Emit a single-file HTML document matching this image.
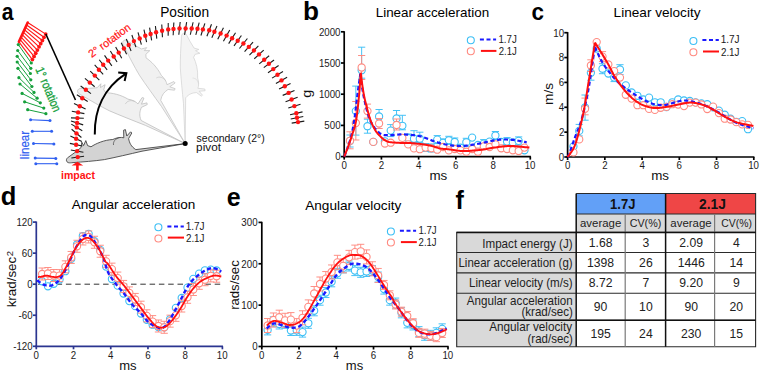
<!DOCTYPE html><html><head><meta charset="utf-8"><style>html,body{margin:0;padding:0;background:#fff;overflow:hidden}svg{display:block}</style></head><body><svg width="760" height="372" viewBox="0 0 760 372" font-family="Liberation Sans, sans-serif">
<rect width="760" height="372" fill="#fff"/>
<text x="1.77" y="20.2" font-size="24.8" font-weight="bold" fill="#000" textLength="11.75" lengthAdjust="spacingAndGlyphs" >a</text>
<text x="160.2" y="17" font-size="13.8" fill="#000" textLength="48.86" lengthAdjust="spacingAndGlyphs" >Position</text>
<g stroke="#ff1414" stroke-width="1.1"><line x1="27.7" y1="22.5" x2="45.7" y2="34.1"/><line x1="26.6" y1="24.93" x2="44.04" y2="37.29"/><line x1="25.5" y1="27.35" x2="42.38" y2="40.48"/><line x1="24.4" y1="29.77" x2="40.71" y2="43.66"/><line x1="23.3" y1="32.2" x2="39.05" y2="46.85"/><line x1="22.2" y1="34.62" x2="37.39" y2="50.04"/><line x1="21.1" y1="37.05" x2="35.73" y2="53.23"/><line x1="20" y1="39.47" x2="34.06" y2="56.41"/><line x1="18.9" y1="41.9" x2="32.4" y2="59.6"/></g>
<line x1="27.7" y1="22.5" x2="18.9" y2="41.9" stroke="#ff1414" stroke-width="2.6" stroke-linecap="round"/>
<g fill="#ff1414"><circle cx="45.7" cy="34.1" r="1.9"/><circle cx="44.04" cy="37.29" r="1.9"/><circle cx="42.38" cy="40.48" r="1.9"/><circle cx="40.71" cy="43.66" r="1.9"/><circle cx="39.05" cy="46.85" r="1.9"/><circle cx="37.39" cy="50.04" r="1.9"/><circle cx="35.73" cy="53.23" r="1.9"/><circle cx="34.06" cy="56.41" r="1.9"/><circle cx="32.4" cy="59.6" r="1.9"/></g>
<g stroke="#16a03c" stroke-width="1"><line x1="18.3" y1="44.6" x2="31.3" y2="63"/><line x1="17.7" y1="50.5" x2="30.8" y2="68.3"/><line x1="17.2" y1="56.3" x2="30.4" y2="73.5"/><line x1="17.2" y1="62" x2="30.8" y2="79.8"/><line x1="17.9" y1="68.3" x2="31.9" y2="86.5"/><line x1="18.9" y1="77.7" x2="34" y2="92.4"/><line x1="20" y1="84" x2="37.1" y2="98.2"/><line x1="22.1" y1="93.4" x2="40.3" y2="102.8"/><line x1="24.6" y1="101.8" x2="43.8" y2="108.1"/><line x1="27.7" y1="109.7" x2="45.9" y2="113.7"/></g>
<g fill="#16a03c"><circle cx="18.3" cy="44.6" r="1.6"/><circle cx="31.3" cy="63" r="1.6"/><circle cx="17.7" cy="50.5" r="1.6"/><circle cx="30.8" cy="68.3" r="1.6"/><circle cx="17.2" cy="56.3" r="1.6"/><circle cx="30.4" cy="73.5" r="1.6"/><circle cx="17.2" cy="62" r="1.6"/><circle cx="30.8" cy="79.8" r="1.6"/><circle cx="17.9" cy="68.3" r="1.6"/><circle cx="31.9" cy="86.5" r="1.6"/><circle cx="18.9" cy="77.7" r="1.6"/><circle cx="34" cy="92.4" r="1.6"/><circle cx="20" cy="84" r="1.6"/><circle cx="37.1" cy="98.2" r="1.6"/><circle cx="22.1" cy="93.4" r="1.6"/><circle cx="40.3" cy="102.8" r="1.6"/><circle cx="24.6" cy="101.8" r="1.6"/><circle cx="43.8" cy="108.1" r="1.6"/><circle cx="27.7" cy="109.7" r="1.6"/><circle cx="45.9" cy="113.7" r="1.6"/></g>
<g stroke="#3060f0" stroke-width="1.1"><line x1="30.6" y1="119.7" x2="50" y2="120.6"/><line x1="32.3" y1="131.3" x2="51.6" y2="131.3"/><line x1="33.5" y1="143.5" x2="53.9" y2="143.9"/><line x1="35.2" y1="158.1" x2="55.8" y2="158.4"/><line x1="35.8" y1="163.7" x2="56.8" y2="163.7"/></g>
<g fill="#3060f0"><circle cx="30.6" cy="119.7" r="1.5"/><circle cx="50" cy="120.6" r="1.5"/><circle cx="32.3" cy="131.3" r="1.5"/><circle cx="51.6" cy="131.3" r="1.5"/><circle cx="33.5" cy="143.5" r="1.5"/><circle cx="53.9" cy="143.9" r="1.5"/><circle cx="35.2" cy="158.1" r="1.5"/><circle cx="55.8" cy="158.4" r="1.5"/><circle cx="35.8" cy="163.7" r="1.5"/><circle cx="56.8" cy="163.7" r="1.5"/></g>
<line x1="45.8" y1="34" x2="75.5" y2="100" stroke="#000" stroke-width="1.6"/>
<g transform="rotate(97.5,185.2,143.6) translate(185.2,143.6) scale(0.92) translate(-185.2,-143.6)"><path d="M68.8,162.8 C65.6,162 65.6,158.6 68.8,156.9 C73,154.2 76.5,151.2 81,147.6 L81.8,142.2 L83.6,145.6 L85.8,140.6 L87.6,145.6 L91,146.8 C96,143.5 104,140 112.8,139.5 C117,137.5 121,137 123.8,137.8 L123.6,130.2 L125.4,129.6 L126.8,136 L130.6,131.8 L131.8,133 L128.6,138.6 C129.5,143 131,146.5 135.8,149.6 L185.2,143.6 L142,151.2 C130,154 115,157.5 104.4,159.6 C95,161 82,162 73,162.6 C71,162.8 69.8,162.9 68.8,162.8 Z" fill="#f4f4f4" stroke="#d0d0d0" stroke-width="0.7" stroke-linejoin="round"/><path d="M113.5,145 C113,141.5 115.5,138.5 119.5,137.6" fill="none" stroke="#d0d0d0" stroke-width="0.5599999999999999"/></g>
<g transform="rotate(67.4,185.2,143.6) translate(185.2,143.6) scale(1) translate(-185.2,-143.6)"><path d="M68.8,162.8 C65.6,162 65.6,158.6 68.8,156.9 C73,154.2 76.5,151.2 81,147.6 L81.8,142.2 L83.6,145.6 L85.8,140.6 L87.6,145.6 L91,146.8 C96,143.5 104,140 112.8,139.5 C117,137.5 121,137 123.8,137.8 L123.6,130.2 L125.4,129.6 L126.8,136 L130.6,131.8 L131.8,133 L128.6,138.6 C129.5,143 131,146.5 135.8,149.6 L185.2,143.6 L142,151.2 C130,154 115,157.5 104.4,159.6 C95,161 82,162 73,162.6 C71,162.8 69.8,162.9 68.8,162.8 Z" fill="#f1f1f1" stroke="#c4c4c4" stroke-width="0.7" stroke-linejoin="round"/><path d="M113.5,145 C113,141.5 115.5,138.5 119.5,137.6" fill="none" stroke="#c4c4c4" stroke-width="0.5599999999999999"/></g>
<g transform="rotate(34.6,185.2,143.6) translate(185.2,143.6) scale(1) translate(-185.2,-143.6)"><path d="M68.8,162.8 C65.6,162 65.6,158.6 68.8,156.9 C73,154.2 76.5,151.2 81,147.6 L81.8,142.2 L83.6,145.6 L85.8,140.6 L87.6,145.6 L91,146.8 C96,143.5 104,140 112.8,139.5 C117,137.5 121,137 123.8,137.8 L123.6,130.2 L125.4,129.6 L126.8,136 L130.6,131.8 L131.8,133 L128.6,138.6 C129.5,143 131,146.5 135.8,149.6 L185.2,143.6 L142,151.2 C130,154 115,157.5 104.4,159.6 C95,161 82,162 73,162.6 C71,162.8 69.8,162.9 68.8,162.8 Z" fill="#f0f0f0" stroke="#bdbdbd" stroke-width="0.7" stroke-linejoin="round"/><path d="M113.5,145 C113,141.5 115.5,138.5 119.5,137.6" fill="none" stroke="#bdbdbd" stroke-width="0.5599999999999999"/></g>
<g transform="rotate(0,185.2,143.6) translate(185.2,143.6) scale(1) translate(-185.2,-143.6)"><path d="M68.8,162.8 C65.6,162 65.6,158.6 68.8,156.9 C73,154.2 76.5,151.2 81,147.6 L81.8,142.2 L83.6,145.6 L85.8,140.6 L87.6,145.6 L91,146.8 C96,143.5 104,140 112.8,139.5 C117,137.5 121,137 123.8,137.8 L123.6,130.2 L125.4,129.6 L126.8,136 L130.6,131.8 L131.8,133 L128.6,138.6 C129.5,143 131,146.5 135.8,149.6 L185.2,143.6 L142,151.2 C130,154 115,157.5 104.4,159.6 C95,161 82,162 73,162.6 C71,162.8 69.8,162.9 68.8,162.8 Z" fill="#d3d3d3" stroke="#3c3c3c" stroke-width="0.85" stroke-linejoin="round"/><path d="M113.5,145 C113,141.5 115.5,138.5 119.5,137.6" fill="none" stroke="#3c3c3c" stroke-width="0.68"/></g>
<g stroke="#1a1a1a" stroke-width="1.1"><line x1="71.36" y1="157.99" x2="84.04" y2="156.21"/><line x1="70.8" y1="149.99" x2="83.4" y2="152.21"/><line x1="69.84" y1="143.37" x2="82.36" y2="146.03"/><line x1="70.35" y1="135.89" x2="81.85" y2="141.51"/><line x1="71.6" y1="129.29" x2="81.4" y2="137.51"/><line x1="71.31" y1="124.1" x2="82.29" y2="130.7"/><line x1="71.01" y1="120.92" x2="83.19" y2="124.88"/><line x1="71" y1="117.88" x2="83.8" y2="118.32"/><line x1="71.82" y1="111.18" x2="84.38" y2="113.62"/><line x1="74" y1="103.6" x2="85.6" y2="109"/><line x1="76.87" y1="94.81" x2="87.73" y2="101.59"/><line x1="90.96" y1="93.58" x2="80.64" y2="86.02"/><line x1="94.67" y1="86.75" x2="84.93" y2="78.45"/><line x1="99.34" y1="80.11" x2="90.26" y2="71.09"/><line x1="103.15" y1="74.49" x2="94.65" y2="64.91"/><line x1="107.16" y1="69.83" x2="99.24" y2="59.77"/><line x1="111.86" y1="65.85" x2="104.54" y2="55.35"/><line x1="117.04" y1="61.96" x2="110.36" y2="51.04"/><line x1="121.72" y1="58.24" x2="115.68" y2="46.96"/><line x1="126.58" y1="54.31" x2="121.22" y2="42.69"/><line x1="131.06" y1="50.95" x2="126.34" y2="39.05"/><line x1="135.91" y1="47.17" x2="131.89" y2="35.03"/><line x1="141.37" y1="44.68" x2="138.03" y2="32.32"/><line x1="146.62" y1="42.06" x2="143.98" y2="29.54"/><line x1="151.61" y1="40.32" x2="149.59" y2="27.68"/><line x1="156.78" y1="38.66" x2="155.42" y2="25.94"/><line x1="162.43" y1="37.19" x2="161.77" y2="24.41"/><line x1="168.17" y1="35.8" x2="168.23" y2="23"/><line x1="173.16" y1="35.29" x2="173.84" y2="22.51"/><line x1="178.82" y1="34.76" x2="180.18" y2="22.04"/><line x1="184.57" y1="34.82" x2="186.63" y2="22.18"/><line x1="190.33" y1="34.75" x2="193.07" y2="22.25"/><line x1="195.81" y1="34.97" x2="199.19" y2="22.63"/><line x1="200.92" y1="35.49" x2="204.88" y2="23.31"/><line x1="206.91" y1="36.28" x2="211.49" y2="24.32"/><line x1="211.84" y1="37.67" x2="216.96" y2="25.93"/><line x1="217.74" y1="39.22" x2="223.46" y2="27.78"/><line x1="223.44" y1="41.17" x2="229.76" y2="30.03"/><line x1="228.67" y1="43.6" x2="235.53" y2="32.8"/><line x1="234" y1="45.92" x2="241.4" y2="35.48"/><line x1="239.43" y1="48.52" x2="247.37" y2="38.48"/><line x1="244.57" y1="51.7" x2="253.03" y2="42.1"/><line x1="249.43" y1="55.08" x2="258.37" y2="45.92"/><line x1="254.29" y1="58.73" x2="263.71" y2="50.07"/><line x1="259.23" y1="63.83" x2="269.17" y2="55.77"/><line x1="263.77" y1="67.62" x2="274.03" y2="59.98"/><line x1="268" y1="72.69" x2="278.6" y2="65.51"/><line x1="272.03" y1="78.13" x2="282.97" y2="71.47"/><line x1="275.88" y1="83.47" x2="287.12" y2="77.33"/><line x1="279.04" y1="89.09" x2="290.56" y2="83.51"/><line x1="282.7" y1="95.38" x2="294.5" y2="90.42"/><line x1="285.57" y1="101.66" x2="297.63" y2="97.34"/><line x1="288.27" y1="107.93" x2="300.53" y2="104.27"/><line x1="290.07" y1="114.76" x2="302.53" y2="111.84"/><line x1="290.72" y1="119.03" x2="303.28" y2="116.57"/><line x1="291.68" y1="123.1" x2="304.32" y2="121.1"/></g>
<g fill="#ff1414"><circle cx="77.7" cy="157.1" r="2.2"/><circle cx="77.1" cy="151.1" r="2.2"/><circle cx="76.1" cy="144.7" r="2.2"/><circle cx="76.1" cy="138.7" r="2.2"/><circle cx="76.5" cy="133.4" r="2.2"/><circle cx="76.8" cy="127.4" r="2.2"/><circle cx="77.1" cy="122.9" r="2.2"/><circle cx="77.4" cy="118.1" r="2.2"/><circle cx="78.1" cy="112.4" r="2.2"/><circle cx="79.8" cy="106.3" r="2.2"/><circle cx="82.3" cy="98.2" r="2.2"/><circle cx="85.8" cy="89.8" r="2.2"/><circle cx="89.8" cy="82.6" r="2.2"/><circle cx="94.8" cy="75.6" r="2.2"/><circle cx="98.9" cy="69.7" r="2.2"/><circle cx="103.2" cy="64.8" r="2.2"/><circle cx="108.2" cy="60.6" r="2.2"/><circle cx="113.7" cy="56.5" r="2.2"/><circle cx="118.7" cy="52.6" r="2.2"/><circle cx="123.9" cy="48.5" r="2.2"/><circle cx="128.7" cy="45" r="2.2"/><circle cx="133.9" cy="41.1" r="2.2"/><circle cx="139.7" cy="38.5" r="2.2"/><circle cx="145.3" cy="35.8" r="2.2"/><circle cx="150.6" cy="34" r="2.2"/><circle cx="156.1" cy="32.3" r="2.2"/><circle cx="162.1" cy="30.8" r="2.2"/><circle cx="168.2" cy="29.4" r="2.2"/><circle cx="173.5" cy="28.9" r="2.2"/><circle cx="179.5" cy="28.4" r="2.2"/><circle cx="185.6" cy="28.5" r="2.2"/><circle cx="191.7" cy="28.5" r="2.2"/><circle cx="197.5" cy="28.8" r="2.2"/><circle cx="202.9" cy="29.4" r="2.2"/><circle cx="209.2" cy="30.3" r="2.2"/><circle cx="214.4" cy="31.8" r="2.2"/><circle cx="220.6" cy="33.5" r="2.2"/><circle cx="226.6" cy="35.6" r="2.2"/><circle cx="232.1" cy="38.2" r="2.2"/><circle cx="237.7" cy="40.7" r="2.2"/><circle cx="243.4" cy="43.5" r="2.2"/><circle cx="248.8" cy="46.9" r="2.2"/><circle cx="253.9" cy="50.5" r="2.2"/><circle cx="259" cy="54.4" r="2.2"/><circle cx="264.2" cy="59.8" r="2.2"/><circle cx="268.9" cy="63.8" r="2.2"/><circle cx="273.3" cy="69.1" r="2.2"/><circle cx="277.5" cy="74.8" r="2.2"/><circle cx="281.5" cy="80.4" r="2.2"/><circle cx="284.8" cy="86.3" r="2.2"/><circle cx="288.6" cy="92.9" r="2.2"/><circle cx="291.6" cy="99.5" r="2.2"/><circle cx="294.4" cy="106.1" r="2.2"/><circle cx="296.3" cy="113.3" r="2.2"/><circle cx="297" cy="117.8" r="2.2"/><circle cx="298" cy="122.1" r="2.2"/></g>
<path d="M94.8,134.6 C94.3,110 104,88 125.5,73.8" fill="none" stroke="#000" stroke-width="2"/>
<path d="M118.2,72.4 L126.4,73.2 L124.6,81" fill="none" stroke="#000" stroke-width="2" stroke-linejoin="miter"/>
<circle cx="185.2" cy="143.6" r="2.5" fill="#000"/>
<path d="M77.4,161.8 L83.2,165.6 L78.7,165.6 L78.7,170.4 L76.1,170.4 L76.1,165.6 L71.6,165.6 Z" fill="#ff1414"/>
<text x="60.96" y="179.3" font-size="11.5" font-weight="bold" fill="#ff1414" textLength="34.08" lengthAdjust="spacingAndGlyphs" >impact</text>
<text x="196.64" y="141.9" font-size="10.2" fill="#111" textLength="68.13" lengthAdjust="spacingAndGlyphs" >secondary (2°)</text>
<text x="196.14" y="151.1" font-size="10.2" fill="#111" textLength="24.85" lengthAdjust="spacingAndGlyphs" >pivot</text>
<text transform="translate(92.3,57.8) rotate(-36.3)" x="-0.54" y="0" font-size="11" fill="#ff1414" stroke="#ff1414" stroke-width="0.2" textLength="49.18" lengthAdjust="spacingAndGlyphs">2° rotation</text>
<text transform="translate(35.6,70) rotate(67)" x="-0.78" y="0" font-size="12.3" fill="#16a03c" stroke="#16a03c" stroke-width="0.3" textLength="47.39" lengthAdjust="spacingAndGlyphs">1° rotation</text>
<text transform="translate(29.4,158.4) rotate(-90)" x="-0.75" y="0" font-size="12" fill="#3060f0" stroke="#3060f0" stroke-width="0.2" textLength="28.28" lengthAdjust="spacingAndGlyphs">linear</text>
<text x="302.9" y="20.4" font-size="25.5" font-weight="bold" fill="#000" textLength="15.97" lengthAdjust="spacingAndGlyphs" >b</text>
<text x="375.73" y="17.1" font-size="13.6" fill="#000" textLength="113.38" lengthAdjust="spacingAndGlyphs" >Linear acceleration</text>
<g stroke="#000" stroke-width="1.7"><line x1="344.2" y1="31.2" x2="344.2" y2="157.45"/><line x1="343.35" y1="156.6" x2="530.9" y2="156.6"/><line x1="340.9" y1="156.6" x2="344.2" y2="156.6"/><line x1="340.9" y1="125.4" x2="344.2" y2="125.4"/><line x1="340.9" y1="94.2" x2="344.2" y2="94.2"/><line x1="340.9" y1="63" x2="344.2" y2="63"/><line x1="340.9" y1="31.8" x2="344.2" y2="31.8"/><line x1="344.2" y1="156.6" x2="344.2" y2="159.6"/><line x1="381.42" y1="156.6" x2="381.42" y2="159.6"/><line x1="418.64" y1="156.6" x2="418.64" y2="159.6"/><line x1="455.86" y1="156.6" x2="455.86" y2="159.6"/><line x1="493.08" y1="156.6" x2="493.08" y2="159.6"/><line x1="530.3" y1="156.6" x2="530.3" y2="159.6"/></g>
<text x="335.15" y="160.4" font-size="10.8" fill="#1a1a1a" textLength="5.41" lengthAdjust="spacingAndGlyphs" >0</text>
<text x="324.36" y="129.2" font-size="10.8" fill="#1a1a1a" textLength="16.22" lengthAdjust="spacingAndGlyphs" >500</text>
<text x="318.91" y="98" font-size="10.8" fill="#1a1a1a" textLength="21.62" lengthAdjust="spacingAndGlyphs" >1000</text>
<text x="318.91" y="66.8" font-size="10.8" fill="#1a1a1a" textLength="21.62" lengthAdjust="spacingAndGlyphs" >1500</text>
<text x="318.91" y="35.6" font-size="10.8" fill="#1a1a1a" textLength="21.62" lengthAdjust="spacingAndGlyphs" >2000</text>
<text x="341.48" y="168.5" font-size="10.8" fill="#1a1a1a" textLength="5.41" lengthAdjust="spacingAndGlyphs" >0</text>
<text x="378.72" y="168.5" font-size="10.8" fill="#1a1a1a" textLength="5.41" lengthAdjust="spacingAndGlyphs" >2</text>
<text x="415.97" y="168.5" font-size="10.8" fill="#1a1a1a" textLength="5.41" lengthAdjust="spacingAndGlyphs" >4</text>
<text x="453.11" y="168.5" font-size="10.8" fill="#1a1a1a" textLength="5.41" lengthAdjust="spacingAndGlyphs" >6</text>
<text x="490.38" y="168.5" font-size="10.8" fill="#1a1a1a" textLength="5.41" lengthAdjust="spacingAndGlyphs" >8</text>
<text x="524.71" y="168.5" font-size="10.8" fill="#1a1a1a" textLength="10.81" lengthAdjust="spacingAndGlyphs" >10</text>
<text transform="translate(311.4,97.2) rotate(-90)" x="-0.58" y="0" font-size="13" fill="#111" textLength="8.07" lengthAdjust="spacingAndGlyphs">g</text>
<text x="429.43" y="179.6" font-size="13.2" fill="#111" textLength="17.81" lengthAdjust="spacingAndGlyphs" >ms</text>
<circle cx="470.8" cy="40.2" r="3.5" fill="none" stroke="#3cbff5" stroke-width="1.1"/>
<circle cx="470.8" cy="51.3" r="3.5" fill="none" stroke="#ff8a80" stroke-width="1.1"/>
<line x1="479.9" y1="39.6" x2="496.1" y2="39.6" stroke="#1a1aff" stroke-width="2" stroke-dasharray="4,2.6"/>
<line x1="480.9" y1="50.9" x2="496.4" y2="50.9" stroke="#ff1010" stroke-width="2"/>
<text x="498.47" y="42.7" font-size="10" fill="#1a1a1a" textLength="18.36" lengthAdjust="spacingAndGlyphs" >1.7J</text>
<text x="498.72" y="55.3" font-size="10" fill="#1a1a1a" textLength="18.1" lengthAdjust="spacingAndGlyphs" >2.1J</text>
<g stroke="#3cbff5" stroke-width="0.95" fill="none"><path d="M350.02,135 V147 M346.42,135 H353.62 M346.42,147 H353.62"/><path d="M355.83,86.1 V135.1 M352.23,86.1 H359.43 M352.23,135.1 H359.43"/><path d="M361.65,47.2 V78.2 M358.05,47.2 H365.25 M358.05,78.2 H365.25"/><path d="M367.46,119.2 V133.2 M363.86,119.2 H371.06 M363.86,133.2 H371.06"/><path d="M379.09,109.5 V124 M375.49,109.5 H382.69 M375.49,124 H382.69"/><path d="M390.72,124.6 V136.6 M387.12,124.6 H394.32 M387.12,136.6 H394.32"/><path d="M396.54,110.5 V127 M392.94,110.5 H400.14 M392.94,127 H400.14"/><path d="M402.36,115.3 V129.8 M398.76,115.3 H405.96 M398.76,129.8 H405.96"/><path d="M408.17,134 V142 M404.57,134 H411.77 M404.57,142 H411.77"/><path d="M413.99,130.7 V142.7 M410.39,130.7 H417.59 M410.39,142.7 H417.59"/><path d="M419.8,132.2 V142.7 M416.2,132.2 H423.4 M416.2,142.7 H423.4"/><path d="M425.62,143.5 V151.5 M422.02,143.5 H429.22 M422.02,151.5 H429.22"/><path d="M431.43,144 V152 M427.83,144 H435.03 M427.83,152 H435.03"/><path d="M437.25,135.6 V143.6 M433.65,135.6 H440.85 M433.65,143.6 H440.85"/><path d="M443.07,138.9 V146.9 M439.47,138.9 H446.67 M439.47,146.9 H446.67"/><path d="M448.88,136.3 V144.3 M445.28,136.3 H452.48 M445.28,144.3 H452.48"/><path d="M454.7,138 V146 M451.1,138 H458.3 M451.1,146 H458.3"/><path d="M466.33,138.3 V146.3 M462.73,138.3 H469.93 M462.73,146.3 H469.93"/><path d="M483.77,139.6 V147.6 M480.17,139.6 H487.38 M480.17,147.6 H487.38"/><path d="M495.41,131.5 V139.5 M491.81,131.5 H499.01 M491.81,139.5 H499.01"/><path d="M507.04,137.6 V145.6 M503.44,137.6 H510.64 M503.44,145.6 H510.64"/><path d="M518.67,136.9 V144.9 M515.07,136.9 H522.27 M515.07,144.9 H522.27"/></g>
<g stroke="#3cbff5" stroke-width="1.1" fill="#fff"><circle cx="350.02" cy="141" r="3.6"/><circle cx="355.83" cy="111.1" r="3.6"/><circle cx="361.65" cy="70.2" r="3.6"/><circle cx="367.46" cy="126.2" r="3.6"/><circle cx="373.28" cy="141.9" r="3.6"/><circle cx="379.09" cy="116.5" r="3.6"/><circle cx="384.91" cy="141.4" r="3.6"/><circle cx="390.72" cy="130.6" r="3.6"/><circle cx="396.54" cy="118.5" r="3.6"/><circle cx="402.36" cy="125.8" r="3.6"/><circle cx="408.17" cy="138" r="3.6"/><circle cx="413.99" cy="138.7" r="3.6"/><circle cx="419.8" cy="138.7" r="3.6"/><circle cx="425.62" cy="147.5" r="3.6"/><circle cx="431.43" cy="148" r="3.6"/><circle cx="437.25" cy="139.6" r="3.6"/><circle cx="443.07" cy="142.9" r="3.6"/><circle cx="448.88" cy="140.3" r="3.6"/><circle cx="454.7" cy="142" r="3.6"/><circle cx="460.51" cy="147.7" r="3.6"/><circle cx="466.33" cy="142.3" r="3.6"/><circle cx="472.14" cy="137.6" r="3.6"/><circle cx="477.96" cy="145" r="3.6"/><circle cx="483.77" cy="143.6" r="3.6"/><circle cx="489.59" cy="141.6" r="3.6"/><circle cx="495.41" cy="135.5" r="3.6"/><circle cx="501.22" cy="142" r="3.6"/><circle cx="507.04" cy="141.6" r="3.6"/><circle cx="512.85" cy="142.5" r="3.6"/><circle cx="518.67" cy="140.9" r="3.6"/><circle cx="524.48" cy="150.3" r="3.6"/></g>
<g stroke="#ff8a80" stroke-width="0.95" fill="none"><path d="M350.02,131.8 V148.8 M346.42,131.8 H353.62 M346.42,148.8 H353.62"/><path d="M355.83,101.5 V140 M352.23,101.5 H359.43 M352.23,140 H359.43"/><path d="M361.65,55.5 V79.5 M358.05,55.5 H365.25 M358.05,79.5 H365.25"/><path d="M367.46,104.1 V118.1 M363.86,104.1 H371.06 M363.86,118.1 H371.06"/><path d="M379.09,118.5 V128.5 M375.49,118.5 H382.69 M375.49,128.5 H382.69"/><path d="M396.54,119 V130 M392.94,119 H400.14 M392.94,130 H400.14"/></g>
<g stroke="#ff8a80" stroke-width="1.1" fill="#fff"><circle cx="350.02" cy="140.8" r="3.6"/><circle cx="355.83" cy="123" r="3.6"/><circle cx="361.65" cy="67.5" r="3.6"/><circle cx="367.46" cy="111.1" r="3.6"/><circle cx="373.28" cy="141.9" r="3.6"/><circle cx="379.09" cy="123.5" r="3.6"/><circle cx="384.91" cy="143.5" r="3.6"/><circle cx="390.72" cy="142.7" r="3.6"/><circle cx="396.54" cy="125" r="3.6"/><circle cx="402.36" cy="137.9" r="3.6"/><circle cx="408.17" cy="144.4" r="3.6"/><circle cx="413.99" cy="148.4" r="3.6"/><circle cx="419.8" cy="149.2" r="3.6"/><circle cx="425.62" cy="147.6" r="3.6"/><circle cx="431.43" cy="148.3" r="3.6"/><circle cx="437.25" cy="149.7" r="3.6"/><circle cx="443.07" cy="147" r="3.6"/><circle cx="448.88" cy="150.4" r="3.6"/><circle cx="454.7" cy="149" r="3.6"/><circle cx="460.51" cy="150.4" r="3.6"/><circle cx="466.33" cy="151.7" r="3.6"/><circle cx="472.14" cy="149" r="3.6"/><circle cx="477.96" cy="151.7" r="3.6"/><circle cx="483.77" cy="146.3" r="3.6"/><circle cx="489.59" cy="147" r="3.6"/><circle cx="495.41" cy="144.3" r="3.6"/><circle cx="501.22" cy="148.3" r="3.6"/><circle cx="507.04" cy="149" r="3.6"/><circle cx="512.85" cy="150.3" r="3.6"/><circle cx="518.67" cy="151" r="3.6"/><circle cx="524.48" cy="147.6" r="3.6"/></g>
<path d="M344.2,156.6 L344.39,156.11 L344.64,155.5 L344.93,154.79 L345.25,153.99 L345.6,153.11 L345.97,152.17 L346.35,151.17 L346.74,150.14 L347.13,149.08 L347.5,148 L347.87,146.9 L348.27,145.77 L348.67,144.6 L349.08,143.38 L349.5,142.12 L349.92,140.81 L350.33,139.44 L350.73,138.02 L351.13,136.54 L351.5,135 L351.86,133.39 L352.22,131.7 L352.56,129.95 L352.9,128.14 L353.24,126.28 L353.56,124.38 L353.88,122.44 L354.2,120.48 L354.5,118.5 L354.8,116.5 L355.09,114.47 L355.36,112.38 L355.62,110.25 L355.88,108.09 L356.12,105.91 L356.37,103.71 L356.62,101.51 L356.87,99.32 L357.13,97.14 L357.4,95 L357.69,92.79 L358.01,90.43 L358.34,88 L358.68,85.56 L359.01,83.16 L359.33,80.86 L359.63,78.74 L359.9,76.85 L360.13,75.25 L360.3,74 M360.3,74 L360.47,75.25 L360.69,76.85 L360.93,78.74 L361.21,80.86 L361.52,83.16 L361.85,85.56 L362.21,88 L362.59,90.43 L362.99,92.79 L363.4,95 L363.84,97.18 L364.32,99.44 L364.83,101.76 L365.36,104.09 L365.91,106.41 L366.47,108.67 L367.04,110.84 L367.6,112.9 L368.16,114.79 L368.7,116.5 L369.22,118.01 L369.73,119.36 L370.24,120.57 L370.74,121.66 L371.24,122.66 L371.76,123.58 L372.29,124.45 L372.83,125.3 L373.4,126.14 L374,127 L374.63,127.87 L375.29,128.72 L375.98,129.54 L376.68,130.33 L377.39,131.08 L378.12,131.79 L378.85,132.44 L379.57,133.03 L380.29,133.55 L381,134 L381.7,134.36 L382.38,134.64 L383.07,134.84 L383.75,134.97 L384.44,135.06 L385.13,135.11 L385.83,135.14 L386.54,135.16 L387.26,135.17 L388,135.2 L388.76,135.22 L389.53,135.22 L390.32,135.2 L391.12,135.16 L391.93,135.1 L392.74,135.04 L393.55,134.97 L394.37,134.91 L395.19,134.85 L396,134.8 L396.78,134.75 L397.5,134.68 L398.2,134.61 L398.89,134.53 L399.59,134.46 L400.34,134.39 L401.15,134.35 L402.05,134.33 L403.06,134.35 L404.2,134.4 L405.5,134.48 L406.94,134.58 L408.49,134.69 L410.14,134.83 L411.84,134.99 L413.58,135.18 L415.32,135.41 L417.04,135.67 L418.71,135.96 L420.3,136.3 L421.83,136.7 L423.35,137.17 L424.85,137.7 L426.34,138.27 L427.81,138.86 L429.27,139.45 L430.72,140.04 L432.16,140.61 L433.58,141.13 L435,141.6 L436.4,142.03 L437.78,142.44 L439.14,142.84 L440.49,143.21 L441.83,143.57 L443.16,143.9 L444.5,144.22 L445.83,144.5 L447.16,144.77 L448.5,145 L449.84,145.21 L451.18,145.4 L452.52,145.56 L453.86,145.7 L455.2,145.82 L456.54,145.91 L457.88,145.97 L459.22,146.01 L460.56,146.02 L461.9,146 L463.26,145.94 L464.66,145.84 L466.07,145.7 L467.48,145.53 L468.89,145.34 L470.28,145.13 L471.63,144.92 L472.95,144.7 L474.21,144.49 L475.4,144.3 L476.5,144.11 L477.51,143.93 L478.45,143.74 L479.34,143.55 L480.21,143.35 L481.07,143.15 L481.96,142.95 L482.9,142.74 L483.9,142.52 L485,142.3 L486.19,142.06 L487.44,141.79 L488.74,141.51 L490.08,141.22 L491.46,140.93 L492.85,140.64 L494.25,140.38 L495.65,140.15 L497.04,139.95 L498.4,139.8 L499.74,139.69 L501.07,139.6 L502.4,139.54 L503.73,139.5 L505.06,139.49 L506.4,139.5 L507.75,139.54 L509.12,139.6 L510.5,139.69 L511.9,139.8 L513.39,139.96 L515.01,140.18 L516.71,140.45 L518.44,140.74 L520.14,141.05 L521.78,141.36 L523.31,141.66 L524.67,141.92 L525.81,142.14 L526.7,142.3" fill="none" stroke="#1a1aff" stroke-width="2.2" stroke-dasharray="4.2,2.6" stroke-linejoin="round"/>
<path d="M344.2,156.6 L344.42,156.04 L344.71,155.33 L345.05,154.5 L345.43,153.57 L345.84,152.55 L346.28,151.47 L346.72,150.36 L347.16,149.23 L347.59,148.1 L348,147 L348.4,145.91 L348.8,144.78 L349.21,143.63 L349.63,142.46 L350.04,141.26 L350.46,140.04 L350.88,138.81 L351.29,137.55 L351.7,136.28 L352.1,135 L352.5,133.75 L352.91,132.55 L353.31,131.38 L353.71,130.2 L354.11,128.99 L354.51,127.7 L354.9,126.31 L355.27,124.78 L355.64,123.09 L356,121.2 L356.35,119.06 L356.7,116.69 L357.04,114.13 L357.37,111.43 L357.69,108.63 L358.01,105.79 L358.31,102.96 L358.59,100.19 L358.85,97.52 L359.1,95 L359.33,92.51 L359.54,89.93 L359.74,87.32 L359.92,84.73 L360.09,82.21 L360.25,79.83 L360.38,77.63 L360.51,75.67 L360.61,74.01 L360.7,72.7 M360.7,72.7 L360.88,74.03 L361.1,75.75 L361.36,77.78 L361.64,80.05 L361.96,82.51 L362.31,85.07 L362.68,87.67 L363.07,90.23 L363.48,92.7 L363.9,95 L364.35,97.23 L364.85,99.51 L365.38,101.82 L365.94,104.14 L366.51,106.42 L367.08,108.66 L367.66,110.81 L368.23,112.85 L368.78,114.76 L369.3,116.5 L369.8,118.08 L370.28,119.51 L370.75,120.83 L371.22,122.04 L371.68,123.16 L372.13,124.2 L372.59,125.2 L373.05,126.15 L373.52,127.08 L374,128 L374.48,128.89 L374.94,129.7 L375.4,130.46 L375.86,131.17 L376.32,131.84 L376.81,132.48 L377.31,133.11 L377.84,133.73 L378.4,134.36 L379,135 L379.64,135.67 L380.31,136.35 L381,137.04 L381.72,137.72 L382.46,138.39 L383.23,139.03 L384.02,139.63 L384.83,140.18 L385.65,140.68 L386.5,141.1 L387.35,141.45 L388.18,141.73 L389.02,141.95 L389.87,142.12 L390.76,142.25 L391.68,142.36 L392.67,142.44 L393.72,142.52 L394.86,142.6 L396.1,142.7 L397.45,142.79 L398.92,142.85 L400.48,142.88 L402.11,142.91 L403.79,142.92 L405.51,142.94 L407.24,142.97 L408.96,143.02 L410.65,143.09 L412.3,143.2 L413.93,143.33 L415.6,143.48 L417.28,143.65 L418.96,143.83 L420.64,144.03 L422.29,144.24 L423.9,144.46 L425.47,144.7 L426.97,144.94 L428.4,145.2 L429.76,145.48 L431.06,145.8 L432.31,146.14 L433.51,146.5 L434.67,146.87 L435.8,147.23 L436.89,147.57 L437.95,147.89 L438.99,148.17 L440,148.4 L440.95,148.58 L441.82,148.71 L442.62,148.81 L443.39,148.89 L444.14,148.94 L444.9,148.99 L445.69,149.04 L446.54,149.11 L447.47,149.19 L448.5,149.3 L449.64,149.45 L450.86,149.63 L452.16,149.82 L453.5,150.03 L454.89,150.24 L456.3,150.45 L457.72,150.63 L459.14,150.79 L460.53,150.92 L461.9,151 L463.26,151.04 L464.66,151.04 L466.07,151.01 L467.48,150.95 L468.89,150.88 L470.28,150.79 L471.63,150.7 L472.95,150.6 L474.21,150.49 L475.4,150.4 L476.5,150.31 L477.51,150.21 L478.45,150.12 L479.34,150.01 L480.21,149.9 L481.07,149.78 L481.96,149.65 L482.9,149.51 L483.9,149.36 L485,149.2 L486.19,149.02 L487.44,148.8 L488.74,148.58 L490.08,148.33 L491.46,148.09 L492.85,147.84 L494.25,147.6 L495.65,147.38 L497.04,147.18 L498.4,147 L499.73,146.84 L501.03,146.68 L502.32,146.53 L503.6,146.39 L504.89,146.26 L506.21,146.16 L507.55,146.07 L508.94,146.01 L510.39,145.99 L511.9,146 L513.57,146.06 L515.42,146.18 L517.41,146.34 L519.45,146.53 L521.49,146.74 L523.47,146.95 L525.31,147.16 L526.96,147.34 L528.34,147.49 L529.4,147.6" fill="none" stroke="#ff1010" stroke-width="2" stroke-linejoin="round"/>
<text x="531.6" y="20.3" font-size="24.2" font-weight="bold" fill="#000" textLength="12.5" lengthAdjust="spacingAndGlyphs" >c</text>
<text x="613.61" y="17.3" font-size="13.6" fill="#000" textLength="86.92" lengthAdjust="spacingAndGlyphs" >Linear velocity</text>
<g stroke="#000" stroke-width="1.7"><line x1="567.6" y1="32.1" x2="567.6" y2="157.85"/><line x1="566.75" y1="157" x2="754.4" y2="157"/><line x1="564.3" y1="157" x2="567.6" y2="157"/><line x1="564.3" y1="132.14" x2="567.6" y2="132.14"/><line x1="564.3" y1="107.28" x2="567.6" y2="107.28"/><line x1="564.3" y1="82.42" x2="567.6" y2="82.42"/><line x1="564.3" y1="57.56" x2="567.6" y2="57.56"/><line x1="564.3" y1="32.7" x2="567.6" y2="32.7"/><line x1="567.6" y1="157" x2="567.6" y2="160"/><line x1="604.84" y1="157" x2="604.84" y2="160"/><line x1="642.08" y1="157" x2="642.08" y2="160"/><line x1="679.32" y1="157" x2="679.32" y2="160"/><line x1="716.56" y1="157" x2="716.56" y2="160"/><line x1="753.8" y1="157" x2="753.8" y2="160"/></g>
<text x="558.75" y="160.8" font-size="10.8" fill="#1a1a1a" textLength="5.41" lengthAdjust="spacingAndGlyphs" >0</text>
<text x="558.89" y="135.94" font-size="10.8" fill="#1a1a1a" textLength="5.41" lengthAdjust="spacingAndGlyphs" >2</text>
<text x="558.65" y="111.08" font-size="10.8" fill="#1a1a1a" textLength="5.41" lengthAdjust="spacingAndGlyphs" >4</text>
<text x="558.79" y="86.22" font-size="10.8" fill="#1a1a1a" textLength="5.41" lengthAdjust="spacingAndGlyphs" >6</text>
<text x="558.79" y="61.36" font-size="10.8" fill="#1a1a1a" textLength="5.41" lengthAdjust="spacingAndGlyphs" >8</text>
<text x="553.35" y="36.5" font-size="10.8" fill="#1a1a1a" textLength="10.81" lengthAdjust="spacingAndGlyphs" >10</text>
<text x="564.88" y="168.6" font-size="10.8" fill="#1a1a1a" textLength="5.41" lengthAdjust="spacingAndGlyphs" >0</text>
<text x="602.14" y="168.6" font-size="10.8" fill="#1a1a1a" textLength="5.41" lengthAdjust="spacingAndGlyphs" >2</text>
<text x="639.41" y="168.6" font-size="10.8" fill="#1a1a1a" textLength="5.41" lengthAdjust="spacingAndGlyphs" >4</text>
<text x="676.57" y="168.6" font-size="10.8" fill="#1a1a1a" textLength="5.41" lengthAdjust="spacingAndGlyphs" >6</text>
<text x="713.86" y="168.6" font-size="10.8" fill="#1a1a1a" textLength="5.41" lengthAdjust="spacingAndGlyphs" >8</text>
<text x="748.21" y="168.6" font-size="10.8" fill="#1a1a1a" textLength="10.81" lengthAdjust="spacingAndGlyphs" >10</text>
<text transform="translate(553.2,104.1) rotate(-90)" x="-0.89" y="0" font-size="13.2" fill="#111" textLength="22.08" lengthAdjust="spacingAndGlyphs">m/s</text>
<text x="651.23" y="179.9" font-size="13.2" fill="#111" textLength="17.81" lengthAdjust="spacingAndGlyphs" >ms</text>
<circle cx="693.4" cy="41" r="3.5" fill="none" stroke="#3cbff5" stroke-width="1.1"/>
<circle cx="693.4" cy="52.3" r="3.5" fill="none" stroke="#ff8a80" stroke-width="1.1"/>
<line x1="702.4" y1="40" x2="718.8" y2="40" stroke="#1a1aff" stroke-width="2" stroke-dasharray="4,2.6"/>
<line x1="703" y1="51.5" x2="719" y2="51.5" stroke="#ff1010" stroke-width="2"/>
<text x="720.65" y="43.1" font-size="10" fill="#1a1a1a" textLength="18.9" lengthAdjust="spacingAndGlyphs" >1.7J</text>
<text x="720.91" y="55.6" font-size="10" fill="#1a1a1a" textLength="18.63" lengthAdjust="spacingAndGlyphs" >2.1J</text>
<g stroke="#3cbff5" stroke-width="0.95" fill="none"><path d="M579.24,124.4 V135.9 M575.64,124.4 H582.84 M575.64,135.9 H582.84"/><path d="M585.06,95 V120.2 M581.46,95 H588.66 M581.46,120.2 H588.66"/><path d="M590.88,65.7 V80.2 M587.27,65.7 H594.48 M587.27,80.2 H594.48"/><path d="M602.51,63.7 V73.7 M598.91,63.7 H606.11 M598.91,73.7 H606.11"/><path d="M614.15,73.6 V81.6 M610.55,73.6 H617.75 M610.55,81.6 H617.75"/><path d="M619.97,64.7 V74.5 M616.37,64.7 H623.57 M616.37,74.5 H623.57"/></g>
<g stroke="#3cbff5" stroke-width="1.1" fill="#fff"><circle cx="573.42" cy="146.4" r="3.6"/><circle cx="579.24" cy="130.9" r="3.6"/><circle cx="585.06" cy="107.5" r="3.6"/><circle cx="590.88" cy="72.7" r="3.6"/><circle cx="596.69" cy="48.5" r="3.6"/><circle cx="602.51" cy="68.7" r="3.6"/><circle cx="608.33" cy="73.5" r="3.6"/><circle cx="614.15" cy="77.6" r="3.6"/><circle cx="619.97" cy="69.5" r="3.6"/><circle cx="625.79" cy="85.4" r="3.6"/><circle cx="631.61" cy="92.47" r="3.6"/><circle cx="637.42" cy="95.8" r="3.6"/><circle cx="643.24" cy="99.52" r="3.6"/><circle cx="649.06" cy="97.6" r="3.6"/><circle cx="654.88" cy="102.3" r="3.6"/><circle cx="660.7" cy="102.3" r="3.6"/><circle cx="666.52" cy="107" r="3.6"/><circle cx="672.34" cy="102.3" r="3.6"/><circle cx="678.16" cy="99.5" r="3.6"/><circle cx="683.98" cy="100.49" r="3.6"/><circle cx="689.79" cy="101" r="3.6"/><circle cx="695.61" cy="102.38" r="3.6"/><circle cx="701.43" cy="103.4" r="3.6"/><circle cx="707.25" cy="104.2" r="3.6"/><circle cx="713.07" cy="107.4" r="3.6"/><circle cx="718.89" cy="110.6" r="3.6"/><circle cx="724.71" cy="114.7" r="3.6"/><circle cx="730.52" cy="118.7" r="3.6"/><circle cx="736.34" cy="121.9" r="3.6"/><circle cx="742.16" cy="121.1" r="3.6"/><circle cx="747.98" cy="129.2" r="3.6"/></g>
<g stroke="#ff8a80" stroke-width="0.95" fill="none"><path d="M585.06,98.1 V114.8 M581.46,98.1 H588.66 M581.46,114.8 H588.66"/><path d="M590.88,59.8 V71.5 M587.27,59.8 H594.48 M587.27,71.5 H594.48"/><path d="M602.51,51.6 V61.6 M598.91,51.6 H606.11 M598.91,61.6 H606.11"/></g>
<g stroke="#ff8a80" stroke-width="1.1" fill="#fff"><circle cx="573.42" cy="152.4" r="3.6"/><circle cx="579.24" cy="139.4" r="3.6"/><circle cx="585.06" cy="108.8" r="3.6"/><circle cx="590.88" cy="65.5" r="3.6"/><circle cx="596.69" cy="42.1" r="3.6"/><circle cx="602.51" cy="56.6" r="3.6"/><circle cx="608.33" cy="64.48" r="3.6"/><circle cx="614.15" cy="71.1" r="3.6"/><circle cx="619.97" cy="77.6" r="3.6"/><circle cx="625.79" cy="94.8" r="3.6"/><circle cx="631.61" cy="98.6" r="3.6"/><circle cx="637.42" cy="105.2" r="3.6"/><circle cx="643.24" cy="105.22" r="3.6"/><circle cx="649.06" cy="108.9" r="3.6"/><circle cx="654.88" cy="109.9" r="3.6"/><circle cx="660.7" cy="107.74" r="3.6"/><circle cx="666.52" cy="106.89" r="3.6"/><circle cx="672.34" cy="104.2" r="3.6"/><circle cx="678.16" cy="104.6" r="3.6"/><circle cx="683.98" cy="106.1" r="3.6"/><circle cx="689.79" cy="102.6" r="3.6"/><circle cx="695.61" cy="102.6" r="3.6"/><circle cx="701.43" cy="104.46" r="3.6"/><circle cx="707.25" cy="109" r="3.6"/><circle cx="713.07" cy="106.6" r="3.6"/><circle cx="718.89" cy="113.1" r="3.6"/><circle cx="724.71" cy="118.7" r="3.6"/><circle cx="730.52" cy="119.5" r="3.6"/><circle cx="736.34" cy="122.15" r="3.6"/><circle cx="742.16" cy="124.4" r="3.6"/><circle cx="747.98" cy="124.92" r="3.6"/></g>
<path d="M567.6,157 L567.66,156.92 L567.72,156.9 L567.77,156.9 L567.84,156.89 L567.93,156.83 L568.04,156.68 L568.2,156.41 L568.4,155.98 L568.67,155.36 L569,154.5 L569.41,153.37 L569.9,151.98 L570.46,150.39 L571.06,148.63 L571.71,146.75 L572.37,144.81 L573.05,142.84 L573.72,140.9 L574.38,139.04 L575,137.3 L575.61,135.66 L576.23,134.07 L576.86,132.52 L577.49,130.97 L578.11,129.43 L578.73,127.88 L579.35,126.29 L579.95,124.66 L580.53,122.97 L581.1,121.2 L581.65,119.33 L582.2,117.37 L582.74,115.34 L583.27,113.26 L583.79,111.15 L584.29,109.04 L584.77,106.96 L585.24,104.93 L585.68,102.97 L586.1,101.1 L586.49,99.34 L586.85,97.67 L587.18,96.07 L587.49,94.51 L587.79,92.98 L588.07,91.46 L588.35,89.92 L588.63,88.34 L588.91,86.71 L589.2,85 L589.49,83.22 L589.78,81.39 L590.06,79.52 L590.33,77.61 L590.61,75.69 L590.88,73.75 L591.15,71.8 L591.43,69.85 L591.71,67.92 L592,66 L592.31,64.01 L592.64,61.88 L592.98,59.68 L593.33,57.45 L593.67,55.26 L594.01,53.17 L594.31,51.23 L594.59,49.5 L594.82,48.04 L595,46.9 M595,46.9 L595.41,47.81 L595.92,48.98 L596.5,50.37 L597.16,51.92 L597.89,53.59 L598.68,55.35 L599.53,57.14 L600.42,58.93 L601.34,60.66 L602.3,62.3 L603.33,63.91 L604.45,65.59 L605.64,67.31 L606.9,69.04 L608.18,70.76 L609.48,72.44 L610.77,74.08 L612.04,75.63 L613.25,77.08 L614.4,78.4 L615.49,79.59 L616.54,80.68 L617.57,81.67 L618.58,82.59 L619.57,83.44 L620.54,84.25 L621.51,85.03 L622.47,85.78 L623.43,86.54 L624.4,87.3 L625.36,88.06 L626.32,88.78 L627.26,89.48 L628.2,90.15 L629.14,90.81 L630.07,91.44 L631,92.07 L631.93,92.68 L632.86,93.29 L633.8,93.9 L634.74,94.51 L635.68,95.11 L636.62,95.7 L637.56,96.28 L638.5,96.85 L639.44,97.41 L640.38,97.95 L641.32,98.49 L642.26,99 L643.2,99.5 L644.13,99.99 L645.05,100.47 L645.96,100.95 L646.87,101.41 L647.78,101.86 L648.7,102.28 L649.64,102.68 L650.6,103.06 L651.58,103.4 L652.6,103.7 L653.65,103.98 L654.74,104.24 L655.85,104.49 L656.98,104.71 L658.13,104.89 L659.29,105.05 L660.45,105.16 L661.61,105.22 L662.76,105.24 L663.9,105.2 L665.04,105.08 L666.18,104.88 L667.34,104.62 L668.49,104.3 L669.64,103.96 L670.79,103.59 L671.92,103.23 L673.04,102.88 L674.13,102.57 L675.2,102.3 L676.22,102.05 L677.18,101.79 L678.11,101.53 L679.01,101.28 L679.91,101.04 L680.82,100.83 L681.77,100.66 L682.77,100.54 L683.84,100.48 L685,100.5 L686.28,100.59 L687.66,100.76 L689.13,100.99 L690.66,101.27 L692.21,101.59 L693.76,101.94 L695.29,102.3 L696.75,102.67 L698.13,103.04 L699.4,103.4 L700.55,103.75 L701.63,104.11 L702.63,104.48 L703.58,104.87 L704.49,105.26 L705.38,105.67 L706.26,106.08 L707.15,106.51 L708.06,106.95 L709,107.4 L709.97,107.86 L710.93,108.34 L711.9,108.82 L712.87,109.32 L713.84,109.83 L714.82,110.34 L715.79,110.87 L716.76,111.4 L717.73,111.95 L718.7,112.5 L719.67,113.07 L720.64,113.66 L721.61,114.27 L722.58,114.88 L723.55,115.51 L724.52,116.13 L725.49,116.75 L726.46,117.35 L727.43,117.94 L728.4,118.5 L729.34,119.04 L730.25,119.57 L731.13,120.08 L732.01,120.58 L732.9,121.07 L733.82,121.56 L734.78,122.04 L735.8,122.52 L736.9,123.01 L738.1,123.5 L739.47,124.02 L741.05,124.56 L742.76,125.13 L744.55,125.7 L746.36,126.26 L748.11,126.8 L749.76,127.29 L751.23,127.74 L752.46,128.11 L753.4,128.4" fill="none" stroke="#1a1aff" stroke-width="2.2" stroke-dasharray="4.2,2.6" stroke-linejoin="round"/>
<path d="M567.6,157 L567.99,156.46 L568.49,155.8 L569.09,155.03 L569.76,154.16 L570.48,153.21 L571.23,152.17 L571.97,151.06 L572.7,149.89 L573.38,148.67 L574,147.4 L574.56,146.08 L575.1,144.69 L575.63,143.24 L576.14,141.72 L576.64,140.13 L577.13,138.48 L577.62,136.78 L578.11,135.01 L578.6,133.18 L579.1,131.3 L579.61,129.34 L580.12,127.3 L580.64,125.18 L581.16,122.99 L581.67,120.76 L582.18,118.48 L582.68,116.17 L583.17,113.85 L583.64,111.52 L584.1,109.2 L584.54,106.85 L584.97,104.44 L585.39,101.99 L585.8,99.52 L586.2,97.03 L586.59,94.55 L586.98,92.09 L587.35,89.67 L587.73,87.3 L588.1,85 L588.46,82.77 L588.82,80.6 L589.16,78.48 L589.5,76.39 L589.83,74.33 L590.16,72.28 L590.49,70.23 L590.82,68.17 L591.16,66.1 L591.5,64 L591.86,61.78 L592.25,59.4 L592.65,56.94 L593.06,54.44 L593.46,51.99 L593.85,49.64 L594.2,47.46 L594.52,45.52 L594.79,43.88 L595,42.6 M595,42.6 L595.74,43.8 L596.71,45.36 L597.87,47.22 L599.17,49.31 L600.56,51.54 L601.98,53.84 L603.4,56.14 L604.76,58.37 L606.01,60.45 L607.1,62.3 L608.05,63.97 L608.92,65.57 L609.73,67.1 L610.49,68.57 L611.22,70.01 L611.93,71.41 L612.65,72.78 L613.39,74.15 L614.17,75.52 L615,76.9 L615.88,78.29 L616.78,79.69 L617.71,81.08 L618.65,82.46 L619.61,83.83 L620.57,85.16 L621.53,86.46 L622.5,87.73 L623.45,88.94 L624.4,90.1 L625.34,91.21 L626.28,92.28 L627.22,93.32 L628.16,94.31 L629.1,95.27 L630.04,96.19 L630.98,97.07 L631.92,97.92 L632.86,98.73 L633.8,99.5 L634.73,100.23 L635.65,100.92 L636.56,101.57 L637.47,102.19 L638.38,102.76 L639.3,103.31 L640.24,103.82 L641.2,104.3 L642.18,104.76 L643.2,105.2 L644.25,105.61 L645.34,106.01 L646.45,106.37 L647.58,106.71 L648.73,107.02 L649.89,107.29 L651.05,107.53 L652.21,107.73 L653.36,107.89 L654.5,108 L655.63,108.06 L656.76,108.06 L657.89,108.02 L659.02,107.93 L660.15,107.81 L661.28,107.67 L662.41,107.51 L663.54,107.34 L664.67,107.17 L665.8,107 L666.92,106.83 L668.04,106.64 L669.15,106.43 L670.26,106.21 L671.37,105.98 L672.49,105.74 L673.61,105.5 L674.76,105.26 L675.92,105.03 L677.1,104.8 L678.32,104.56 L679.58,104.3 L680.88,104.03 L682.19,103.75 L683.5,103.48 L684.81,103.23 L686.09,103 L687.34,102.82 L688.55,102.68 L689.7,102.6 L690.79,102.58 L691.83,102.6 L692.83,102.66 L693.79,102.76 L694.74,102.89 L695.67,103.05 L696.59,103.24 L697.51,103.44 L698.45,103.67 L699.4,103.9 L700.36,104.15 L701.32,104.42 L702.28,104.72 L703.24,105.04 L704.2,105.38 L705.16,105.74 L706.12,106.12 L707.08,106.52 L708.04,106.95 L709,107.4 L709.97,107.88 L710.93,108.4 L711.9,108.95 L712.87,109.53 L713.84,110.12 L714.82,110.72 L715.79,111.33 L716.76,111.93 L717.73,112.52 L718.7,113.1 L719.67,113.67 L720.64,114.25 L721.61,114.84 L722.58,115.42 L723.55,116.01 L724.52,116.58 L725.49,117.14 L726.46,117.68 L727.43,118.21 L728.4,118.7 L729.34,119.17 L730.25,119.61 L731.13,120.04 L732.01,120.45 L732.9,120.84 L733.82,121.23 L734.78,121.6 L735.8,121.97 L736.9,122.34 L738.1,122.7 L739.47,123.07 L741.05,123.46 L742.76,123.85 L744.55,124.23 L746.36,124.6 L748.11,124.95 L749.76,125.27 L751.23,125.56 L752.46,125.81 L753.4,126" fill="none" stroke="#ff1010" stroke-width="2" stroke-linejoin="round"/>
<text x="0.88" y="205.4" font-size="25.5" font-weight="bold" fill="#000" textLength="15.6" lengthAdjust="spacingAndGlyphs" >d</text>
<text x="71.8" y="209.1" font-size="13.6" fill="#000" textLength="123.54" lengthAdjust="spacingAndGlyphs" >Angular acceleration</text>
<g stroke="#2b3590" stroke-width="1.7"><line x1="36.3" y1="221.5" x2="36.3" y2="347.15"/><line x1="35.45" y1="346.3" x2="223" y2="346.3"/><line x1="33" y1="346.3" x2="36.3" y2="346.3"/><line x1="33" y1="315.25" x2="36.3" y2="315.25"/><line x1="33" y1="284.2" x2="36.3" y2="284.2"/><line x1="33" y1="253.15" x2="36.3" y2="253.15"/><line x1="33" y1="222.1" x2="36.3" y2="222.1"/><line x1="36.3" y1="346.3" x2="36.3" y2="349.3"/><line x1="73.52" y1="346.3" x2="73.52" y2="349.3"/><line x1="110.74" y1="346.3" x2="110.74" y2="349.3"/><line x1="147.96" y1="346.3" x2="147.96" y2="349.3"/><line x1="185.18" y1="346.3" x2="185.18" y2="349.3"/><line x1="222.4" y1="346.3" x2="222.4" y2="349.3"/></g>
<text x="13.2" y="350.1" font-size="10.8" fill="#1a1a1a" textLength="19.46" lengthAdjust="spacingAndGlyphs" >-120</text>
<text x="18.59" y="319.05" font-size="10.8" fill="#1a1a1a" textLength="14.05" lengthAdjust="spacingAndGlyphs" >-60</text>
<text x="27.25" y="288" font-size="10.8" fill="#1a1a1a" textLength="5.41" lengthAdjust="spacingAndGlyphs" >0</text>
<text x="21.85" y="256.95" font-size="10.8" fill="#1a1a1a" textLength="10.81" lengthAdjust="spacingAndGlyphs" >60</text>
<text x="16.46" y="225.9" font-size="10.8" fill="#1a1a1a" textLength="16.22" lengthAdjust="spacingAndGlyphs" >120</text>
<text x="33.58" y="358.5" font-size="10.8" fill="#1a1a1a" textLength="5.41" lengthAdjust="spacingAndGlyphs" >0</text>
<text x="70.82" y="358.5" font-size="10.8" fill="#1a1a1a" textLength="5.41" lengthAdjust="spacingAndGlyphs" >2</text>
<text x="108.07" y="358.5" font-size="10.8" fill="#1a1a1a" textLength="5.41" lengthAdjust="spacingAndGlyphs" >4</text>
<text x="145.21" y="358.5" font-size="10.8" fill="#1a1a1a" textLength="5.41" lengthAdjust="spacingAndGlyphs" >6</text>
<text x="182.48" y="358.5" font-size="10.8" fill="#1a1a1a" textLength="5.41" lengthAdjust="spacingAndGlyphs" >8</text>
<text x="216.81" y="358.5" font-size="10.8" fill="#1a1a1a" textLength="10.81" lengthAdjust="spacingAndGlyphs" >10</text>
<line x1="38" y1="284.2" x2="222.4" y2="284.2" stroke="#333" stroke-width="1" stroke-dasharray="5.5,3.8"/>
<text transform="translate(16,306.5) rotate(-90)" x="-0.87" y="0" font-size="13.5" fill="#111" textLength="50.6" lengthAdjust="spacingAndGlyphs">krad/sec</text>
<text transform="translate(12.7,255.7) rotate(-90)" x="-0.47" y="0" font-size="9.5" fill="#111" textLength="5.26" lengthAdjust="spacingAndGlyphs">2</text>
<text x="119.15" y="369.7" font-size="13.2" fill="#111" textLength="17.38" lengthAdjust="spacingAndGlyphs" >ms</text>
<circle cx="158.4" cy="227.2" r="3.5" fill="none" stroke="#3cbff5" stroke-width="1.1"/>
<circle cx="158.4" cy="238.5" r="3.5" fill="none" stroke="#ff8a80" stroke-width="1.1"/>
<line x1="167.4" y1="226.5" x2="183.8" y2="226.5" stroke="#1a1aff" stroke-width="2" stroke-dasharray="4,2.6"/>
<line x1="167.8" y1="237.6" x2="184" y2="237.6" stroke="#ff1010" stroke-width="2"/>
<text x="185.65" y="229.6" font-size="10" fill="#1a1a1a" textLength="18.9" lengthAdjust="spacingAndGlyphs" >1.7J</text>
<text x="185.91" y="241.8" font-size="10" fill="#1a1a1a" textLength="18.63" lengthAdjust="spacingAndGlyphs" >2.1J</text>
<g stroke="#3cbff5" stroke-width="0.95" fill="none"></g>
<g stroke="#3cbff5" stroke-width="1.1" fill="#fff"><circle cx="42.12" cy="281.3" r="3.6"/><circle cx="47.93" cy="286.3" r="3.6"/><circle cx="53.75" cy="283.76" r="3.6"/><circle cx="59.56" cy="279.48" r="3.6"/><circle cx="65.38" cy="271.21" r="3.6"/><circle cx="71.19" cy="258.94" r="3.6"/><circle cx="77.01" cy="244.43" r="3.6"/><circle cx="82.83" cy="236.03" r="3.6"/><circle cx="88.64" cy="233.84" r="3.6"/><circle cx="94.46" cy="241.18" r="3.6"/><circle cx="100.27" cy="249.89" r="3.6"/><circle cx="106.09" cy="266.62" r="3.6"/><circle cx="111.9" cy="279.03" r="3.6"/><circle cx="117.72" cy="285.66" r="3.6"/><circle cx="123.53" cy="293.51" r="3.6"/><circle cx="129.35" cy="301.08" r="3.6"/><circle cx="135.17" cy="306.18" r="3.6"/><circle cx="140.98" cy="313.53" r="3.6"/><circle cx="146.8" cy="319.73" r="3.6"/><circle cx="152.61" cy="324.7" r="3.6"/><circle cx="158.43" cy="327.04" r="3.6"/><circle cx="164.24" cy="327.4" r="3.6"/><circle cx="170.06" cy="319.24" r="3.6"/><circle cx="175.88" cy="307.89" r="3.6"/><circle cx="181.69" cy="298.02" r="3.6"/><circle cx="187.51" cy="287.67" r="3.6"/><circle cx="193.32" cy="278.83" r="3.6"/><circle cx="199.14" cy="273.63" r="3.6"/><circle cx="204.95" cy="270.3" r="3.6"/><circle cx="210.77" cy="269.63" r="3.6"/><circle cx="216.58" cy="270.46" r="3.6"/></g>
<g stroke="#ff8a80" stroke-width="0.95" fill="none"><path d="M42.12,268 V280 M38.52,268 H45.72 M38.52,280 H45.72"/><path d="M47.93,267.5 V279.5 M44.33,267.5 H51.53 M44.33,279.5 H51.53"/><path d="M53.75,269.5 V281.5 M50.15,269.5 H57.35 M50.15,281.5 H57.35"/><path d="M59.56,269.6 V281.6 M55.96,269.6 H63.16 M55.96,281.6 H63.16"/><path d="M65.38,260.84 V272.84 M61.78,260.84 H68.98 M61.78,272.84 H68.98"/><path d="M71.19,251.46 V263.46 M67.59,251.46 H74.79 M67.59,263.46 H74.79"/><path d="M77.01,240.28 V252.28 M73.41,240.28 H80.61 M73.41,252.28 H80.61"/><path d="M82.83,232.98 V244.98 M79.23,232.98 H86.42 M79.23,244.98 H86.42"/><path d="M88.64,230.96 V242.96 M85.04,230.96 H92.24 M85.04,242.96 H92.24"/><path d="M94.46,236.28 V248.28 M90.86,236.28 H98.06 M90.86,248.28 H98.06"/><path d="M100.27,245.24 V257.24 M96.67,245.24 H103.87 M96.67,257.24 H103.87"/><path d="M106.09,255.31 V267.31 M102.49,255.31 H109.69 M102.49,267.31 H109.69"/><path d="M111.9,263.13 V275.13 M108.3,263.13 H115.5 M108.3,275.13 H115.5"/><path d="M117.72,272.07 V284.07 M114.12,272.07 H121.32 M114.12,284.07 H121.32"/><path d="M123.53,280.42 V292.42 M119.93,280.42 H127.13 M119.93,292.42 H127.13"/><path d="M129.35,286.9 V298.9 M125.75,286.9 H132.95 M125.75,298.9 H132.95"/><path d="M135.17,293.45 V305.45 M131.57,293.45 H138.77 M131.57,305.45 H138.77"/><path d="M140.98,301.2 V313.2 M137.38,301.2 H144.58 M137.38,313.2 H144.58"/><path d="M146.8,309.81 V321.81 M143.2,309.81 H150.4 M143.2,321.81 H150.4"/><path d="M152.61,315.6 V327.6 M149.01,315.6 H156.21 M149.01,327.6 H156.21"/><path d="M158.43,319.99 V331.99 M154.83,319.99 H162.03 M154.83,331.99 H162.03"/><path d="M164.24,321.29 V333.29 M160.64,321.29 H167.84 M160.64,333.29 H167.84"/><path d="M170.06,315.15 V327.15 M166.46,315.15 H173.66 M166.46,327.15 H173.66"/><path d="M175.88,309.33 V321.33 M172.28,309.33 H179.47 M172.28,321.33 H179.47"/><path d="M181.69,300.03 V312.03 M178.09,300.03 H185.29 M178.09,312.03 H185.29"/><path d="M187.51,291.31 V303.31 M183.91,291.31 H191.11 M183.91,303.31 H191.11"/><path d="M193.32,283.5 V295.5 M189.72,283.5 H196.92 M189.72,295.5 H196.92"/><path d="M199.14,277.31 V289.31 M195.54,277.31 H202.74 M195.54,289.31 H202.74"/><path d="M204.95,273.72 V285.72 M201.35,273.72 H208.55 M201.35,285.72 H208.55"/><path d="M210.77,269.92 V281.92 M207.17,269.92 H214.37 M207.17,281.92 H214.37"/><path d="M216.58,270.23 V282.23 M212.98,270.23 H220.18 M212.98,282.23 H220.18"/></g>
<g stroke="#ff8a80" stroke-width="1.1" fill="#fff"><circle cx="42.12" cy="274" r="3.6"/><circle cx="47.93" cy="273.5" r="3.6"/><circle cx="53.75" cy="275.5" r="3.6"/><circle cx="59.56" cy="275.6" r="3.6"/><circle cx="65.38" cy="266.84" r="3.6"/><circle cx="71.19" cy="257.46" r="3.6"/><circle cx="77.01" cy="246.28" r="3.6"/><circle cx="82.83" cy="238.98" r="3.6"/><circle cx="88.64" cy="236.96" r="3.6"/><circle cx="94.46" cy="242.28" r="3.6"/><circle cx="100.27" cy="251.24" r="3.6"/><circle cx="106.09" cy="261.31" r="3.6"/><circle cx="111.9" cy="269.13" r="3.6"/><circle cx="117.72" cy="278.07" r="3.6"/><circle cx="123.53" cy="286.42" r="3.6"/><circle cx="129.35" cy="292.9" r="3.6"/><circle cx="135.17" cy="299.45" r="3.6"/><circle cx="140.98" cy="307.2" r="3.6"/><circle cx="146.8" cy="315.81" r="3.6"/><circle cx="152.61" cy="321.6" r="3.6"/><circle cx="158.43" cy="325.99" r="3.6"/><circle cx="164.24" cy="327.29" r="3.6"/><circle cx="170.06" cy="321.15" r="3.6"/><circle cx="175.88" cy="315.33" r="3.6"/><circle cx="181.69" cy="306.03" r="3.6"/><circle cx="187.51" cy="297.31" r="3.6"/><circle cx="193.32" cy="289.5" r="3.6"/><circle cx="199.14" cy="283.31" r="3.6"/><circle cx="204.95" cy="279.72" r="3.6"/><circle cx="210.77" cy="275.92" r="3.6"/><circle cx="216.58" cy="276.23" r="3.6"/></g>
<path d="M37.5,280 L37.53,280.07 L37.54,280.14 L37.55,280.23 L37.56,280.32 L37.59,280.43 L37.64,280.56 L37.74,280.71 L37.89,280.88 L38.11,281.08 L38.4,281.3 L38.78,281.57 L39.23,281.9 L39.75,282.28 L40.32,282.68 L40.93,283.09 L41.57,283.5 L42.23,283.89 L42.9,284.24 L43.56,284.55 L44.2,284.8 L44.84,285.01 L45.49,285.2 L46.16,285.37 L46.84,285.52 L47.53,285.63 L48.22,285.71 L48.92,285.74 L49.62,285.72 L50.31,285.64 L51,285.5 L51.69,285.3 L52.39,285.03 L53.1,284.72 L53.81,284.36 L54.52,283.94 L55.22,283.49 L55.92,282.99 L56.6,282.46 L57.26,281.9 L57.9,281.3 L58.52,280.67 L59.12,280 L59.7,279.29 L60.27,278.54 L60.82,277.75 L61.38,276.93 L61.93,276.07 L62.48,275.18 L63.04,274.25 L63.6,273.3 L64.16,272.31 L64.72,271.29 L65.27,270.24 L65.82,269.15 L66.38,268.03 L66.93,266.88 L67.5,265.68 L68.08,264.46 L68.68,263.2 L69.3,261.9 L69.94,260.53 L70.6,259.07 L71.28,257.54 L71.98,255.97 L72.68,254.38 L73.39,252.8 L74.1,251.24 L74.81,249.74 L75.51,248.32 L76.2,247 L76.9,245.74 L77.62,244.51 L78.35,243.3 L79.09,242.13 L79.81,241.02 L80.52,239.97 L81.21,239.01 L81.85,238.13 L82.45,237.36 L83,236.7 L83.48,236.17 L83.9,235.77 L84.26,235.48 L84.59,235.28 L84.89,235.16 L85.19,235.09 L85.48,235.07 L85.79,235.08 L86.12,235.09 L86.5,235.1 L86.9,235.09 L87.3,235.08 L87.7,235.07 L88.11,235.09 L88.54,235.16 L88.98,235.28 L89.44,235.48 L89.93,235.77 L90.45,236.17 L91,236.7 L91.6,237.37 L92.25,238.18 L92.93,239.11 L93.64,240.14 L94.37,241.23 L95.11,242.38 L95.84,243.55 L96.56,244.72 L97.25,245.88 L97.9,247 L98.52,248.09 L99.14,249.19 L99.74,250.29 L100.32,251.4 L100.9,252.53 L101.46,253.68 L102.02,254.84 L102.56,256.03 L103.08,257.25 L103.6,258.5 L104.08,259.79 L104.52,261.14 L104.92,262.52 L105.31,263.94 L105.7,265.36 L106.1,266.79 L106.52,268.21 L106.99,269.61 L107.51,270.98 L108.1,272.3 L108.76,273.59 L109.49,274.87 L110.27,276.14 L111.09,277.39 L111.93,278.62 L112.79,279.84 L113.66,281.02 L114.53,282.18 L115.38,283.31 L116.2,284.4 L117,285.44 L117.8,286.43 L118.6,287.37 L119.4,288.29 L120.2,289.18 L121,290.07 L121.8,290.96 L122.6,291.87 L123.4,292.82 L124.2,293.8 L125.01,294.84 L125.81,295.91 L126.62,297.02 L127.43,298.15 L128.24,299.28 L129.06,300.41 L129.87,301.51 L130.68,302.59 L131.49,303.62 L132.3,304.6 L133.11,305.51 L133.92,306.37 L134.73,307.19 L135.54,307.97 L136.35,308.74 L137.16,309.5 L137.97,310.26 L138.78,311.04 L139.59,311.85 L140.4,312.7 L141.2,313.61 L142,314.56 L142.79,315.55 L143.58,316.56 L144.37,317.57 L145.17,318.57 L145.97,319.53 L146.8,320.46 L147.64,321.32 L148.5,322.1 L149.41,322.83 L150.36,323.52 L151.35,324.18 L152.36,324.81 L153.37,325.39 L154.37,325.92 L155.33,326.4 L156.26,326.83 L157.12,327.2 L157.9,327.5 L158.6,327.75 L159.22,327.97 L159.78,328.13 L160.3,328.25 L160.79,328.31 L161.26,328.3 L161.73,328.22 L162.22,328.07 L162.74,327.83 L163.3,327.5 L163.88,327.1 L164.46,326.64 L165.04,326.12 L165.63,325.53 L166.23,324.86 L166.85,324.09 L167.51,323.24 L168.19,322.27 L168.92,321.2 L169.7,320 L170.54,318.64 L171.43,317.11 L172.37,315.44 L173.35,313.66 L174.35,311.79 L175.37,309.88 L176.39,307.94 L177.41,306.01 L178.42,304.12 L179.4,302.3 L180.36,300.49 L181.32,298.62 L182.28,296.71 L183.24,294.8 L184.2,292.9 L185.16,291.04 L186.12,289.25 L187.08,287.54 L188.04,285.95 L189,284.5 L189.97,283.18 L190.93,281.98 L191.9,280.87 L192.87,279.85 L193.84,278.9 L194.82,278.01 L195.79,277.17 L196.76,276.36 L197.73,275.58 L198.7,274.8 L199.68,274.04 L200.69,273.31 L201.71,272.61 L202.73,271.94 L203.74,271.33 L204.74,270.75 L205.72,270.23 L206.66,269.76 L207.56,269.35 L208.4,269 L209.19,268.72 L209.92,268.5 L210.62,268.35 L211.28,268.25 L211.91,268.19 L212.53,268.19 L213.14,268.22 L213.75,268.28 L214.37,268.38 L215,268.5 L215.67,268.68 L216.38,268.94 L217.11,269.26 L217.84,269.63 L218.56,270.02 L219.25,270.41 L219.88,270.78 L220.45,271.12 L220.93,271.4 L221.3,271.6" fill="none" stroke="#1a1aff" stroke-width="2.4" stroke-dasharray="4.2,2.6" stroke-linejoin="round"/>
<path d="M38,277 L38.15,276.99 L38.32,276.99 L38.52,276.99 L38.74,276.98 L38.99,276.97 L39.27,276.96 L39.58,276.94 L39.92,276.91 L40.3,276.86 L40.7,276.8 L41.15,276.71 L41.65,276.59 L42.19,276.44 L42.76,276.28 L43.36,276.11 L43.97,275.96 L44.59,275.82 L45.21,275.7 L45.81,275.63 L46.4,275.6 L46.98,275.63 L47.56,275.71 L48.14,275.82 L48.72,275.96 L49.3,276.12 L49.88,276.29 L50.46,276.45 L51.04,276.6 L51.62,276.72 L52.2,276.8 L52.78,276.86 L53.36,276.93 L53.95,277 L54.54,277.05 L55.12,277.09 L55.7,277.11 L56.27,277.1 L56.83,277.04 L57.38,276.95 L57.9,276.8 L58.4,276.62 L58.87,276.43 L59.33,276.22 L59.77,275.98 L60.2,275.69 L60.63,275.36 L61.07,274.96 L61.53,274.49 L62,273.94 L62.5,273.3 L63.02,272.56 L63.55,271.73 L64.09,270.82 L64.65,269.83 L65.21,268.79 L65.79,267.69 L66.37,266.55 L66.97,265.39 L67.58,264.2 L68.2,263 L68.84,261.74 L69.51,260.39 L70.19,258.96 L70.89,257.49 L71.59,256.01 L72.3,254.53 L73,253.1 L73.69,251.73 L74.36,250.45 L75,249.3 L75.62,248.25 L76.23,247.26 L76.82,246.34 L77.4,245.47 L77.97,244.66 L78.54,243.9 L79.1,243.18 L79.66,242.51 L80.23,241.89 L80.8,241.3 L81.37,240.75 L81.95,240.23 L82.52,239.76 L83.09,239.34 L83.66,238.96 L84.22,238.63 L84.79,238.36 L85.36,238.14 L85.93,237.99 L86.5,237.9 L87.06,237.87 L87.62,237.89 L88.17,237.96 L88.72,238.08 L89.28,238.27 L89.83,238.52 L90.4,238.83 L90.98,239.21 L91.58,239.67 L92.2,240.2 L92.85,240.82 L93.52,241.55 L94.21,242.35 L94.92,243.24 L95.64,244.17 L96.35,245.16 L97.07,246.18 L97.76,247.22 L98.45,248.26 L99.1,249.3 L99.74,250.39 L100.39,251.58 L101.03,252.83 L101.67,254.12 L102.29,255.41 L102.89,256.67 L103.47,257.87 L104.02,258.98 L104.53,259.97 L105,260.8 L105.4,261.43 L105.72,261.86 L105.98,262.14 L106.2,262.33 L106.41,262.46 L106.63,262.6 L106.89,262.8 L107.2,263.09 L107.6,263.54 L108.1,264.2 L108.71,265.07 L109.4,266.1 L110.17,267.27 L110.98,268.54 L111.84,269.87 L112.73,271.23 L113.62,272.59 L114.51,273.91 L115.37,275.16 L116.2,276.3 L117,277.35 L117.8,278.35 L118.6,279.3 L119.4,280.23 L120.2,281.14 L121,282.04 L121.8,282.94 L122.6,283.86 L123.4,284.81 L124.2,285.8 L125.01,286.82 L125.81,287.86 L126.62,288.92 L127.43,289.99 L128.24,291.07 L129.06,292.16 L129.87,293.24 L130.68,294.33 L131.49,295.42 L132.3,296.5 L133.11,297.58 L133.92,298.65 L134.73,299.73 L135.54,300.81 L136.35,301.89 L137.16,302.98 L137.97,304.06 L138.78,305.14 L139.59,306.22 L140.4,307.3 L141.21,308.39 L142.02,309.5 L142.83,310.63 L143.64,311.75 L144.46,312.87 L145.27,313.97 L146.08,315.06 L146.89,316.11 L147.69,317.13 L148.5,318.1 L149.31,319.05 L150.13,320 L150.95,320.94 L151.76,321.86 L152.58,322.74 L153.39,323.58 L154.19,324.35 L154.98,325.06 L155.75,325.68 L156.5,326.2 L157.23,326.63 L157.94,326.98 L158.64,327.27 L159.33,327.48 L160,327.62 L160.67,327.71 L161.33,327.74 L161.98,327.71 L162.64,327.63 L163.3,327.5 L163.94,327.34 L164.55,327.14 L165.15,326.89 L165.73,326.6 L166.32,326.24 L166.92,325.81 L167.55,325.3 L168.22,324.7 L168.93,324 L169.7,323.2 L170.54,322.27 L171.43,321.22 L172.37,320.06 L173.35,318.81 L174.35,317.49 L175.37,316.1 L176.39,314.68 L177.41,313.22 L178.42,311.76 L179.4,310.3 L180.36,308.8 L181.32,307.21 L182.28,305.55 L183.24,303.86 L184.2,302.15 L185.16,300.45 L186.12,298.78 L187.08,297.16 L188.04,295.63 L189,294.2 L189.97,292.85 L190.93,291.54 L191.9,290.27 L192.87,289.06 L193.84,287.89 L194.82,286.77 L195.79,285.71 L196.76,284.71 L197.73,283.77 L198.7,282.9 L199.68,282.1 L200.69,281.37 L201.71,280.71 L202.73,280.11 L203.74,279.56 L204.74,279.06 L205.72,278.6 L206.66,278.18 L207.56,277.78 L208.4,277.4 L209.19,277.05 L209.92,276.74 L210.62,276.47 L211.28,276.24 L211.91,276.04 L212.53,275.88 L213.14,275.74 L213.75,275.64 L214.37,275.56 L215,275.5 L215.67,275.49 L216.38,275.53 L217.11,275.62 L217.84,275.74 L218.56,275.88 L219.25,276.03 L219.88,276.18 L220.45,276.32 L220.93,276.43 L221.3,276.5" fill="none" stroke="#ff1010" stroke-width="1.8" stroke-linejoin="round"/>
<text x="226.8" y="205.8" font-size="25.5" font-weight="bold" fill="#000" textLength="13.88" lengthAdjust="spacingAndGlyphs" >e</text>
<text x="305.2" y="209.5" font-size="13.6" fill="#000" textLength="96.09" lengthAdjust="spacingAndGlyphs" >Angular velocity</text>
<g stroke="#000" stroke-width="1.7"><line x1="261.8" y1="221.8" x2="261.8" y2="347.35"/><line x1="260.95" y1="346.5" x2="448.6" y2="346.5"/><line x1="258.5" y1="346.5" x2="261.8" y2="346.5"/><line x1="258.5" y1="305.13" x2="261.8" y2="305.13"/><line x1="258.5" y1="263.77" x2="261.8" y2="263.77"/><line x1="258.5" y1="222.4" x2="261.8" y2="222.4"/><line x1="261.8" y1="346.5" x2="261.8" y2="349.5"/><line x1="299.04" y1="346.5" x2="299.04" y2="349.5"/><line x1="336.28" y1="346.5" x2="336.28" y2="349.5"/><line x1="373.52" y1="346.5" x2="373.52" y2="349.5"/><line x1="410.76" y1="346.5" x2="410.76" y2="349.5"/><line x1="448" y1="346.5" x2="448" y2="349.5"/></g>
<text x="252.15" y="350.3" font-size="10.8" fill="#1a1a1a" textLength="5.41" lengthAdjust="spacingAndGlyphs" >0</text>
<text x="241.36" y="308.93" font-size="10.8" fill="#1a1a1a" textLength="16.22" lengthAdjust="spacingAndGlyphs" >100</text>
<text x="241.36" y="267.57" font-size="10.8" fill="#1a1a1a" textLength="16.22" lengthAdjust="spacingAndGlyphs" >200</text>
<text x="241.36" y="226.2" font-size="10.8" fill="#1a1a1a" textLength="16.22" lengthAdjust="spacingAndGlyphs" >300</text>
<text x="259.08" y="358.5" font-size="10.8" fill="#1a1a1a" textLength="5.41" lengthAdjust="spacingAndGlyphs" >0</text>
<text x="296.34" y="358.5" font-size="10.8" fill="#1a1a1a" textLength="5.41" lengthAdjust="spacingAndGlyphs" >2</text>
<text x="333.61" y="358.5" font-size="10.8" fill="#1a1a1a" textLength="5.41" lengthAdjust="spacingAndGlyphs" >4</text>
<text x="370.77" y="358.5" font-size="10.8" fill="#1a1a1a" textLength="5.41" lengthAdjust="spacingAndGlyphs" >6</text>
<text x="408.06" y="358.5" font-size="10.8" fill="#1a1a1a" textLength="5.41" lengthAdjust="spacingAndGlyphs" >8</text>
<text x="442.41" y="358.5" font-size="10.8" fill="#1a1a1a" textLength="10.81" lengthAdjust="spacingAndGlyphs" >10</text>
<text transform="translate(239.2,309) rotate(-90)" x="-0.85" y="0" font-size="12.6" fill="#111" textLength="49.57" lengthAdjust="spacingAndGlyphs">rads/sec</text>
<text x="345.85" y="369.7" font-size="13.2" fill="#111" textLength="17.38" lengthAdjust="spacingAndGlyphs" >ms</text>
<circle cx="390.9" cy="231.5" r="3.5" fill="none" stroke="#3cbff5" stroke-width="1.1"/>
<circle cx="390.9" cy="242.5" r="3.5" fill="none" stroke="#ff8a80" stroke-width="1.1"/>
<line x1="399.9" y1="230.8" x2="416.1" y2="230.8" stroke="#1a1aff" stroke-width="2" stroke-dasharray="4,2.6"/>
<line x1="400.9" y1="242.1" x2="416.8" y2="242.1" stroke="#ff1010" stroke-width="2"/>
<text x="418.38" y="233.6" font-size="10" fill="#1a1a1a" textLength="18.25" lengthAdjust="spacingAndGlyphs" >1.7J</text>
<text x="418.62" y="246" font-size="10" fill="#1a1a1a" textLength="17.99" lengthAdjust="spacingAndGlyphs" >2.1J</text>
<g stroke="#3cbff5" stroke-width="0.95" fill="none"><path d="M267.62,324.9 V334.9 M264.02,324.9 H271.22 M264.02,334.9 H271.22"/><path d="M273.44,316.8 V326.8 M269.84,316.8 H277.04 M269.84,326.8 H277.04"/><path d="M279.26,318.97 V328.97 M275.66,318.97 H282.86 M275.66,328.97 H282.86"/><path d="M285.07,318.3 V328.3 M281.47,318.3 H288.68 M281.47,328.3 H288.68"/><path d="M290.89,325.48 V335.48 M287.29,325.48 H294.49 M287.29,335.48 H294.49"/><path d="M296.71,325.4 V335.4 M293.11,325.4 H300.31 M293.11,335.4 H300.31"/><path d="M302.53,327.1 V337.1 M298.93,327.1 H306.13 M298.93,337.1 H306.13"/><path d="M308.35,318.3 V328.3 M304.75,318.3 H311.95 M304.75,328.3 H311.95"/><path d="M314.17,305.8 V315.8 M310.57,305.8 H317.77 M310.57,315.8 H317.77"/><path d="M319.99,295.19 V305.19 M316.39,295.19 H323.59 M316.39,305.19 H323.59"/><path d="M325.81,287.52 V297.52 M322.21,287.52 H329.41 M322.21,297.52 H329.41"/><path d="M331.62,276.8 V286.8 M328.02,276.8 H335.23 M328.02,286.8 H335.23"/><path d="M337.44,268.32 V278.32 M333.84,268.32 H341.04 M333.84,278.32 H341.04"/><path d="M343.26,262.9 V272.9 M339.66,262.9 H346.86 M339.66,272.9 H346.86"/><path d="M349.08,261 V271 M345.48,261 H352.68 M345.48,271 H352.68"/><path d="M354.9,265.6 V275.6 M351.3,265.6 H358.5 M351.3,275.6 H358.5"/><path d="M360.72,267.3 V277.3 M357.12,267.3 H364.32 M357.12,277.3 H364.32"/><path d="M366.54,266.5 V276.5 M362.94,266.5 H370.14 M362.94,276.5 H370.14"/><path d="M372.36,265.6 V275.6 M368.76,265.6 H375.96 M368.76,275.6 H375.96"/><path d="M378.18,272.06 V282.06 M374.57,272.06 H381.78 M374.57,282.06 H381.78"/><path d="M383.99,284.07 V294.07 M380.39,284.07 H387.59 M380.39,294.07 H387.59"/><path d="M389.81,295.16 V305.16 M386.21,295.16 H393.41 M386.21,305.16 H393.41"/><path d="M395.63,298.07 V308.07 M392.03,298.07 H399.23 M392.03,308.07 H399.23"/><path d="M401.45,307.84 V317.84 M397.85,307.84 H405.05 M397.85,317.84 H405.05"/><path d="M407.27,317.85 V327.85 M403.67,317.85 H410.87 M403.67,327.85 H410.87"/><path d="M413.09,319.95 V329.95 M409.49,319.95 H416.69 M409.49,329.95 H416.69"/><path d="M418.91,326.61 V336.61 M415.31,326.61 H422.51 M415.31,336.61 H422.51"/><path d="M424.73,330.3 V340.3 M421.12,330.3 H428.33 M421.12,340.3 H428.33"/><path d="M430.54,330.37 V340.37 M426.94,330.37 H434.14 M426.94,340.37 H434.14"/><path d="M436.36,327.82 V337.82 M432.76,327.82 H439.96 M432.76,337.82 H439.96"/><path d="M442.18,323.85 V333.85 M438.58,323.85 H445.78 M438.58,333.85 H445.78"/></g>
<g stroke="#3cbff5" stroke-width="1.1" fill="#fff"><circle cx="267.62" cy="329.9" r="3.6"/><circle cx="273.44" cy="321.8" r="3.6"/><circle cx="279.26" cy="323.97" r="3.6"/><circle cx="285.07" cy="323.3" r="3.6"/><circle cx="290.89" cy="330.48" r="3.6"/><circle cx="296.71" cy="330.4" r="3.6"/><circle cx="302.53" cy="332.1" r="3.6"/><circle cx="308.35" cy="323.3" r="3.6"/><circle cx="314.17" cy="310.8" r="3.6"/><circle cx="319.99" cy="300.19" r="3.6"/><circle cx="325.81" cy="292.52" r="3.6"/><circle cx="331.62" cy="281.8" r="3.6"/><circle cx="337.44" cy="273.32" r="3.6"/><circle cx="343.26" cy="267.9" r="3.6"/><circle cx="349.08" cy="266" r="3.6"/><circle cx="354.9" cy="270.6" r="3.6"/><circle cx="360.72" cy="272.3" r="3.6"/><circle cx="366.54" cy="271.5" r="3.6"/><circle cx="372.36" cy="270.6" r="3.6"/><circle cx="378.18" cy="277.06" r="3.6"/><circle cx="383.99" cy="289.07" r="3.6"/><circle cx="389.81" cy="300.16" r="3.6"/><circle cx="395.63" cy="303.07" r="3.6"/><circle cx="401.45" cy="312.84" r="3.6"/><circle cx="407.27" cy="322.85" r="3.6"/><circle cx="413.09" cy="324.95" r="3.6"/><circle cx="418.91" cy="331.61" r="3.6"/><circle cx="424.73" cy="335.3" r="3.6"/><circle cx="430.54" cy="335.37" r="3.6"/><circle cx="436.36" cy="332.82" r="3.6"/><circle cx="442.18" cy="328.85" r="3.6"/></g>
<g stroke="#ff8a80" stroke-width="0.95" fill="none"><path d="M267.62,318.5 V332.5 M264.02,318.5 H271.22 M264.02,332.5 H271.22"/><path d="M273.44,312.97 V326.97 M269.84,312.97 H277.04 M269.84,326.97 H277.04"/><path d="M279.26,310.2 V324.2 M275.66,310.2 H282.86 M275.66,324.2 H282.86"/><path d="M285.07,313.3 V327.3 M281.47,313.3 H288.68 M281.47,327.3 H288.68"/><path d="M290.89,312.6 V326.6 M287.29,312.6 H294.49 M287.29,326.6 H294.49"/><path d="M296.71,318.61 V332.61 M293.11,318.61 H300.31 M293.11,332.61 H300.31"/><path d="M302.53,310.78 V324.78 M298.93,310.78 H306.13 M298.93,324.78 H306.13"/><path d="M308.35,299.9 V313.9 M304.75,299.9 H311.95 M304.75,313.9 H311.95"/><path d="M314.17,286.5 V300.5 M310.57,286.5 H317.77 M310.57,300.5 H317.77"/><path d="M319.99,277 V291 M316.39,277 H323.59 M316.39,291 H323.59"/><path d="M325.81,271.56 V285.56 M322.21,271.56 H329.41 M322.21,285.56 H329.41"/><path d="M331.62,264.96 V278.96 M328.02,264.96 H335.23 M328.02,278.96 H335.23"/><path d="M337.44,255.32 V269.32 M333.84,255.32 H341.04 M333.84,269.32 H341.04"/><path d="M343.26,258.8 V272.8 M339.66,258.8 H346.86 M339.66,272.8 H346.86"/><path d="M349.08,250.36 V264.36 M345.48,250.36 H352.68 M345.48,264.36 H352.68"/><path d="M354.9,245.1 V259.1 M351.3,245.1 H358.5 M351.3,259.1 H358.5"/><path d="M360.72,244.3 V258.3 M357.12,244.3 H364.32 M357.12,258.3 H364.32"/><path d="M366.54,249.9 V263.9 M362.94,249.9 H370.14 M362.94,263.9 H370.14"/><path d="M372.36,261.75 V275.75 M368.76,261.75 H375.96 M368.76,275.75 H375.96"/><path d="M378.18,268.45 V282.45 M374.57,268.45 H381.78 M374.57,282.45 H381.78"/><path d="M383.99,280.46 V289.46 M380.39,280.46 H387.59 M380.39,289.46 H387.59"/><path d="M389.81,290.8 V299.8 M386.21,290.8 H393.41 M386.21,299.8 H393.41"/><path d="M395.63,299.99 V308.99 M392.03,299.99 H399.23 M392.03,308.99 H399.23"/><path d="M401.45,307.19 V316.19 M397.85,307.19 H405.05 M397.85,316.19 H405.05"/><path d="M407.27,311.47 V320.47 M403.67,311.47 H410.87 M403.67,320.47 H410.87"/><path d="M413.09,318.72 V327.72 M409.49,318.72 H416.69 M409.49,327.72 H416.69"/><path d="M418.91,328.38 V337.38 M415.31,328.38 H422.51 M415.31,337.38 H422.51"/><path d="M424.73,329.17 V338.17 M421.12,329.17 H428.33 M421.12,338.17 H428.33"/><path d="M430.54,331.35 V340.35 M426.94,331.35 H434.14 M426.94,340.35 H434.14"/><path d="M436.36,332.66 V341.66 M432.76,332.66 H439.96 M432.76,341.66 H439.96"/><path d="M442.18,328.47 V337.47 M438.58,328.47 H445.78 M438.58,337.47 H445.78"/></g>
<g stroke="#ff8a80" stroke-width="1.1" fill="#fff"><circle cx="267.62" cy="325.5" r="3.6"/><circle cx="273.44" cy="319.97" r="3.6"/><circle cx="279.26" cy="317.2" r="3.6"/><circle cx="285.07" cy="320.3" r="3.6"/><circle cx="290.89" cy="319.6" r="3.6"/><circle cx="296.71" cy="325.61" r="3.6"/><circle cx="302.53" cy="317.78" r="3.6"/><circle cx="308.35" cy="306.9" r="3.6"/><circle cx="314.17" cy="293.5" r="3.6"/><circle cx="319.99" cy="284" r="3.6"/><circle cx="325.81" cy="278.56" r="3.6"/><circle cx="331.62" cy="271.96" r="3.6"/><circle cx="337.44" cy="262.32" r="3.6"/><circle cx="343.26" cy="265.8" r="3.6"/><circle cx="349.08" cy="257.36" r="3.6"/><circle cx="354.9" cy="252.1" r="3.6"/><circle cx="360.72" cy="251.3" r="3.6"/><circle cx="366.54" cy="256.9" r="3.6"/><circle cx="372.36" cy="268.75" r="3.6"/><circle cx="378.18" cy="275.45" r="3.6"/><circle cx="383.99" cy="284.96" r="3.6"/><circle cx="389.81" cy="295.3" r="3.6"/><circle cx="395.63" cy="304.49" r="3.6"/><circle cx="401.45" cy="311.69" r="3.6"/><circle cx="407.27" cy="315.97" r="3.6"/><circle cx="413.09" cy="323.22" r="3.6"/><circle cx="418.91" cy="332.88" r="3.6"/><circle cx="424.73" cy="333.67" r="3.6"/><circle cx="430.54" cy="335.85" r="3.6"/><circle cx="436.36" cy="337.16" r="3.6"/><circle cx="442.18" cy="332.97" r="3.6"/></g>
<path d="M266.7,328.5 L267.09,328.17 L267.59,327.72 L268.17,327.16 L268.83,326.55 L269.54,325.91 L270.3,325.27 L271.08,324.68 L271.86,324.16 L272.64,323.76 L273.4,323.5 L274.15,323.38 L274.93,323.37 L275.73,323.44 L276.54,323.58 L277.37,323.78 L278.2,324.02 L279.03,324.27 L279.86,324.53 L280.69,324.78 L281.5,325 L282.3,325.23 L283.08,325.49 L283.86,325.79 L284.64,326.1 L285.42,326.41 L286.2,326.7 L287,326.98 L287.81,327.21 L288.64,327.39 L289.5,327.5 L290.39,327.57 L291.31,327.64 L292.25,327.68 L293.22,327.7 L294.19,327.67 L295.16,327.59 L296.12,327.44 L297.07,327.22 L298,326.91 L298.9,326.5 L299.77,325.99 L300.61,325.38 L301.44,324.68 L302.25,323.91 L303.05,323.08 L303.85,322.18 L304.65,321.25 L305.45,320.29 L306.27,319.3 L307.1,318.3 L307.93,317.29 L308.76,316.24 L309.58,315.16 L310.41,314.05 L311.24,312.89 L312.08,311.7 L312.95,310.47 L313.83,309.19 L314.75,307.87 L315.7,306.5 L316.69,305.06 L317.72,303.56 L318.78,301.99 L319.87,300.37 L320.97,298.72 L322.08,297.05 L323.2,295.37 L324.31,293.69 L325.41,292.03 L326.5,290.4 L327.57,288.76 L328.65,287.06 L329.72,285.33 L330.79,283.6 L331.86,281.87 L332.92,280.19 L333.99,278.57 L335.06,277.03 L336.13,275.6 L337.2,274.3 L338.29,273.11 L339.4,272.01 L340.52,270.99 L341.65,270.05 L342.77,269.18 L343.88,268.38 L344.95,267.65 L345.99,266.98 L346.98,266.36 L347.9,265.8 L348.74,265.3 L349.49,264.87 L350.18,264.51 L350.82,264.21 L351.44,263.98 L352.07,263.8 L352.71,263.67 L353.4,263.6 L354.16,263.58 L355,263.6 L355.94,263.67 L356.95,263.78 L358.01,263.94 L359.12,264.16 L360.26,264.43 L361.4,264.75 L362.55,265.14 L363.67,265.59 L364.76,266.11 L365.8,266.7 L366.81,267.38 L367.8,268.16 L368.78,269.03 L369.75,269.96 L370.71,270.94 L371.64,271.97 L372.56,273.01 L373.46,274.06 L374.34,275.09 L375.2,276.1 L376.03,277.1 L376.83,278.12 L377.61,279.15 L378.38,280.19 L379.12,281.24 L379.85,282.29 L380.57,283.35 L381.28,284.4 L381.99,285.46 L382.7,286.5 L383.4,287.54 L384.08,288.6 L384.74,289.65 L385.4,290.71 L386.05,291.76 L386.7,292.81 L387.36,293.85 L388.02,294.88 L388.7,295.9 L389.4,296.9 L390.12,297.88 L390.85,298.83 L391.59,299.76 L392.34,300.68 L393.09,301.6 L393.85,302.52 L394.62,303.44 L395.38,304.37 L396.14,305.32 L396.9,306.3 L397.66,307.3 L398.42,308.33 L399.18,309.38 L399.94,310.44 L400.7,311.5 L401.46,312.56 L402.22,313.62 L402.98,314.67 L403.74,315.7 L404.5,316.7 L405.25,317.7 L406.01,318.7 L406.76,319.71 L407.51,320.71 L408.26,321.69 L409,322.65 L409.75,323.58 L410.5,324.47 L411.25,325.31 L412,326.1 L412.75,326.83 L413.5,327.53 L414.25,328.19 L415,328.8 L415.75,329.39 L416.5,329.94 L417.25,330.45 L418,330.93 L418.75,331.38 L419.5,331.8 L420.25,332.19 L421,332.54 L421.75,332.86 L422.5,333.14 L423.24,333.39 L423.99,333.61 L424.74,333.8 L425.49,333.96 L426.25,334.1 L427,334.2 L427.74,334.28 L428.44,334.34 L429.13,334.38 L429.81,334.39 L430.51,334.36 L431.22,334.3 L431.98,334.2 L432.78,334.05 L433.65,333.85 L434.6,333.6 L435.69,333.26 L436.94,332.8 L438.31,332.27 L439.73,331.68 L441.18,331.06 L442.58,330.45 L443.89,329.87 L445.07,329.35 L446.05,328.92 L446.8,328.6" fill="none" stroke="#1a1aff" stroke-width="2.4" stroke-dasharray="4.2,2.6" stroke-linejoin="round"/>
<path d="M266.7,325.5 L267.09,325.21 L267.59,324.79 L268.17,324.29 L268.83,323.74 L269.54,323.16 L270.3,322.58 L271.08,322.05 L271.86,321.59 L272.64,321.23 L273.4,321 L274.15,320.9 L274.93,320.9 L275.73,320.98 L276.54,321.12 L277.37,321.31 L278.2,321.54 L279.03,321.79 L279.86,322.04 L280.69,322.28 L281.5,322.5 L282.3,322.73 L283.1,323.01 L283.9,323.32 L284.7,323.64 L285.5,323.97 L286.3,324.28 L287.1,324.55 L287.9,324.77 L288.7,324.93 L289.5,325 L290.31,325 L291.12,324.96 L291.94,324.88 L292.77,324.75 L293.59,324.58 L294.41,324.36 L295.22,324.09 L296.02,323.78 L296.82,323.41 L297.6,323 L298.35,322.57 L299.07,322.13 L299.77,321.68 L300.45,321.18 L301.14,320.62 L301.84,319.98 L302.56,319.24 L303.32,318.37 L304.13,317.37 L305,316.2 L305.94,314.84 L306.93,313.29 L307.96,311.59 L309.04,309.76 L310.14,307.83 L311.25,305.84 L312.38,303.83 L313.5,301.81 L314.61,299.82 L315.7,297.9 L316.78,295.99 L317.86,294.04 L318.94,292.05 L320.02,290.05 L321.1,288.04 L322.18,286.06 L323.26,284.11 L324.34,282.2 L325.42,280.36 L326.5,278.6 L327.57,276.89 L328.65,275.2 L329.72,273.55 L330.79,271.93 L331.86,270.36 L332.92,268.85 L333.99,267.41 L335.06,266.05 L336.13,264.78 L337.2,263.6 L338.29,262.52 L339.4,261.52 L340.52,260.6 L341.65,259.75 L342.77,258.98 L343.88,258.28 L344.95,257.64 L345.99,257.07 L346.98,256.56 L347.9,256.1 L348.76,255.72 L349.55,255.43 L350.3,255.22 L351,255.08 L351.68,255 L352.34,254.96 L352.99,254.95 L353.64,254.96 L354.31,254.98 L355,255 L355.7,255.01 L356.4,255.02 L357.09,255.05 L357.78,255.09 L358.48,255.17 L359.17,255.28 L359.87,255.44 L360.57,255.66 L361.28,255.94 L362,256.3 L362.73,256.72 L363.47,257.21 L364.21,257.74 L364.96,258.33 L365.72,258.98 L366.48,259.67 L367.23,260.41 L367.99,261.19 L368.75,262.03 L369.5,262.9 L370.25,263.84 L371,264.84 L371.75,265.91 L372.5,267.03 L373.24,268.19 L373.99,269.38 L374.74,270.59 L375.49,271.8 L376.25,273.01 L377,274.2 L377.76,275.39 L378.52,276.61 L379.28,277.85 L380.04,279.1 L380.8,280.36 L381.56,281.61 L382.32,282.86 L383.08,284.09 L383.84,285.31 L384.6,286.5 L385.37,287.69 L386.18,288.9 L387,290.11 L387.82,291.32 L388.64,292.51 L389.43,293.66 L390.18,294.77 L390.89,295.82 L391.53,296.8 L392.1,297.7 L392.56,298.48 L392.92,299.13 L393.19,299.69 L393.41,300.19 L393.6,300.65 L393.79,301.11 L394.01,301.59 L394.28,302.13 L394.64,302.76 L395.1,303.5 L395.67,304.36 L396.31,305.3 L397.02,306.31 L397.78,307.38 L398.57,308.47 L399.38,309.59 L400.21,310.71 L401.03,311.81 L401.83,312.88 L402.6,313.9 L403.35,314.89 L404.1,315.88 L404.85,316.87 L405.6,317.84 L406.35,318.81 L407.1,319.75 L407.85,320.68 L408.6,321.58 L409.35,322.46 L410.1,323.3 L410.85,324.12 L411.6,324.93 L412.35,325.72 L413.1,326.49 L413.84,327.24 L414.59,327.95 L415.34,328.63 L416.09,329.27 L416.85,329.86 L417.6,330.4 L418.36,330.89 L419.12,331.33 L419.88,331.73 L420.64,332.09 L421.4,332.41 L422.16,332.69 L422.92,332.95 L423.68,333.19 L424.44,333.4 L425.2,333.6 L425.95,333.78 L426.71,333.93 L427.46,334.05 L428.21,334.15 L428.96,334.22 L429.7,334.26 L430.45,334.29 L431.2,334.28 L431.95,334.25 L432.7,334.2 L433.45,334.12 L434.21,334 L434.98,333.85 L435.74,333.67 L436.51,333.47 L437.26,333.26 L438.02,333.03 L438.76,332.79 L439.49,332.55 L440.2,332.3 L440.93,332.03 L441.68,331.72 L442.45,331.39 L443.22,331.04 L443.97,330.68 L444.68,330.34 L445.33,330.01 L445.92,329.73 L446.41,329.48 L446.8,329.3" fill="none" stroke="#ff1010" stroke-width="1.8" stroke-linejoin="round"/>
<text x="455.62" y="208.6" font-size="25.5" font-weight="bold" fill="#000" textLength="8.33" lengthAdjust="spacingAndGlyphs" >f</text>
<rect x="576.2" y="193.5" width="89.39999999999998" height="20.5" fill="#62a0f7"/>
<rect x="665.6" y="193.5" width="90.0" height="20.5" fill="#ef4646"/>
<rect x="576.2" y="214" width="179.39999999999998" height="18.400000000000006" fill="#d9d9d9"/>
<rect x="456.7" y="232.4" width="119.50000000000006" height="114.29999999999998" fill="#d9d9d9"/>
<g stroke="#2a2a2a" stroke-width="1.1" fill="none"><path d="M576.2,193.5 H755.6 V346.7 H456.7 V232.4 H755.6 M576.2,214 H755.6"/><path d="M456.7,252.5 H755.6"/><path d="M456.7,272.9 H755.6"/><path d="M456.7,293.3 H755.6"/><path d="M456.7,320.3 H755.6"/></g><path d="M625.2,214 V346.7 M714.6,214 V346.7" stroke="#7a7a7a" stroke-width="1.2" fill="none"/><path d="M576.2,193.5 V346.7 M665.6,193.5 V346.7" stroke="#111" stroke-width="1.5" fill="none"/><path d="M456.7,320.3 H755.6 M456.7,232.4 H755.6" stroke="#111" stroke-width="1.5" fill="none"/>
<text x="610.12" y="208.9" font-size="14.5" font-weight="bold" fill="#111" textLength="25.35" lengthAdjust="spacingAndGlyphs" >1.7J</text>
<text x="699.02" y="208.9" font-size="14.5" font-weight="bold" fill="#111" textLength="26.9" lengthAdjust="spacingAndGlyphs" >2.1J</text>
<text x="580.04" y="227.1" font-size="11.5" fill="#222" textLength="41.2" lengthAdjust="spacingAndGlyphs" >average</text>
<text x="629.66" y="227.1" font-size="11.5" fill="#222" textLength="31.63" lengthAdjust="spacingAndGlyphs" >CV(%)</text>
<text x="670.34" y="227.1" font-size="11.5" fill="#222" textLength="41.3" lengthAdjust="spacingAndGlyphs" >average</text>
<text x="721.28" y="227.1" font-size="11.5" fill="#222" textLength="30.69" lengthAdjust="spacingAndGlyphs" >CV(%)</text>
<text x="482.25" y="247.5" font-size="12.6" fill="#222" textLength="90.41" lengthAdjust="spacingAndGlyphs" >Impact energy (J)</text>
<text x="458.48" y="266.7" font-size="12.6" fill="#222" textLength="114.16" lengthAdjust="spacingAndGlyphs" >Linear acceleration (g)</text>
<text x="468.97" y="287.3" font-size="12.6" fill="#222" textLength="103.65" lengthAdjust="spacingAndGlyphs" >Linear velocity (m/s)</text>
<text x="466.8" y="304.5" font-size="12.6" fill="#222" textLength="106.02" lengthAdjust="spacingAndGlyphs" >Angular acceleration</text>
<text x="521.41" y="316.3" font-size="12.6" fill="#222" textLength="51.45" lengthAdjust="spacingAndGlyphs" >(krad/sec)</text>
<text x="489.2" y="331.1" font-size="12.6" fill="#222" textLength="82.89" lengthAdjust="spacingAndGlyphs" >Angular velocity</text>
<text x="527.51" y="343" font-size="12.6" fill="#222" textLength="45.34" lengthAdjust="spacingAndGlyphs" >(rad/sec)</text>
<text x="600.6" y="247" font-size="12.2" fill="#222" text-anchor="middle">1.68</text>
<text x="645.9" y="247" font-size="12.2" fill="#222" text-anchor="middle">3</text>
<text x="691.2" y="247" font-size="12.2" fill="#222" text-anchor="middle">2.09</text>
<text x="736.3" y="247" font-size="12.2" fill="#222" text-anchor="middle">4</text>
<text x="600.6" y="267" font-size="12.2" fill="#222" text-anchor="middle">1398</text>
<text x="645.9" y="267" font-size="12.2" fill="#222" text-anchor="middle">26</text>
<text x="691.2" y="267" font-size="12.2" fill="#222" text-anchor="middle">1446</text>
<text x="736.3" y="267" font-size="12.2" fill="#222" text-anchor="middle">14</text>
<text x="600.6" y="287.4" font-size="12.2" fill="#222" text-anchor="middle">8.72</text>
<text x="645.9" y="287.4" font-size="12.2" fill="#222" text-anchor="middle">7</text>
<text x="691.2" y="287.4" font-size="12.2" fill="#222" text-anchor="middle">9.20</text>
<text x="736.3" y="287.4" font-size="12.2" fill="#222" text-anchor="middle">9</text>
<text x="600.6" y="311.2" font-size="12.2" fill="#222" text-anchor="middle">90</text>
<text x="645.9" y="311.2" font-size="12.2" fill="#222" text-anchor="middle">10</text>
<text x="691.2" y="311.2" font-size="12.2" fill="#222" text-anchor="middle">90</text>
<text x="736.3" y="311.2" font-size="12.2" fill="#222" text-anchor="middle">20</text>
<text x="600.6" y="338.1" font-size="12.2" fill="#222" text-anchor="middle">195</text>
<text x="645.9" y="338.1" font-size="12.2" fill="#222" text-anchor="middle">24</text>
<text x="691.2" y="338.1" font-size="12.2" fill="#222" text-anchor="middle">230</text>
<text x="736.3" y="338.1" font-size="12.2" fill="#222" text-anchor="middle">15</text>
</svg></body></html>
